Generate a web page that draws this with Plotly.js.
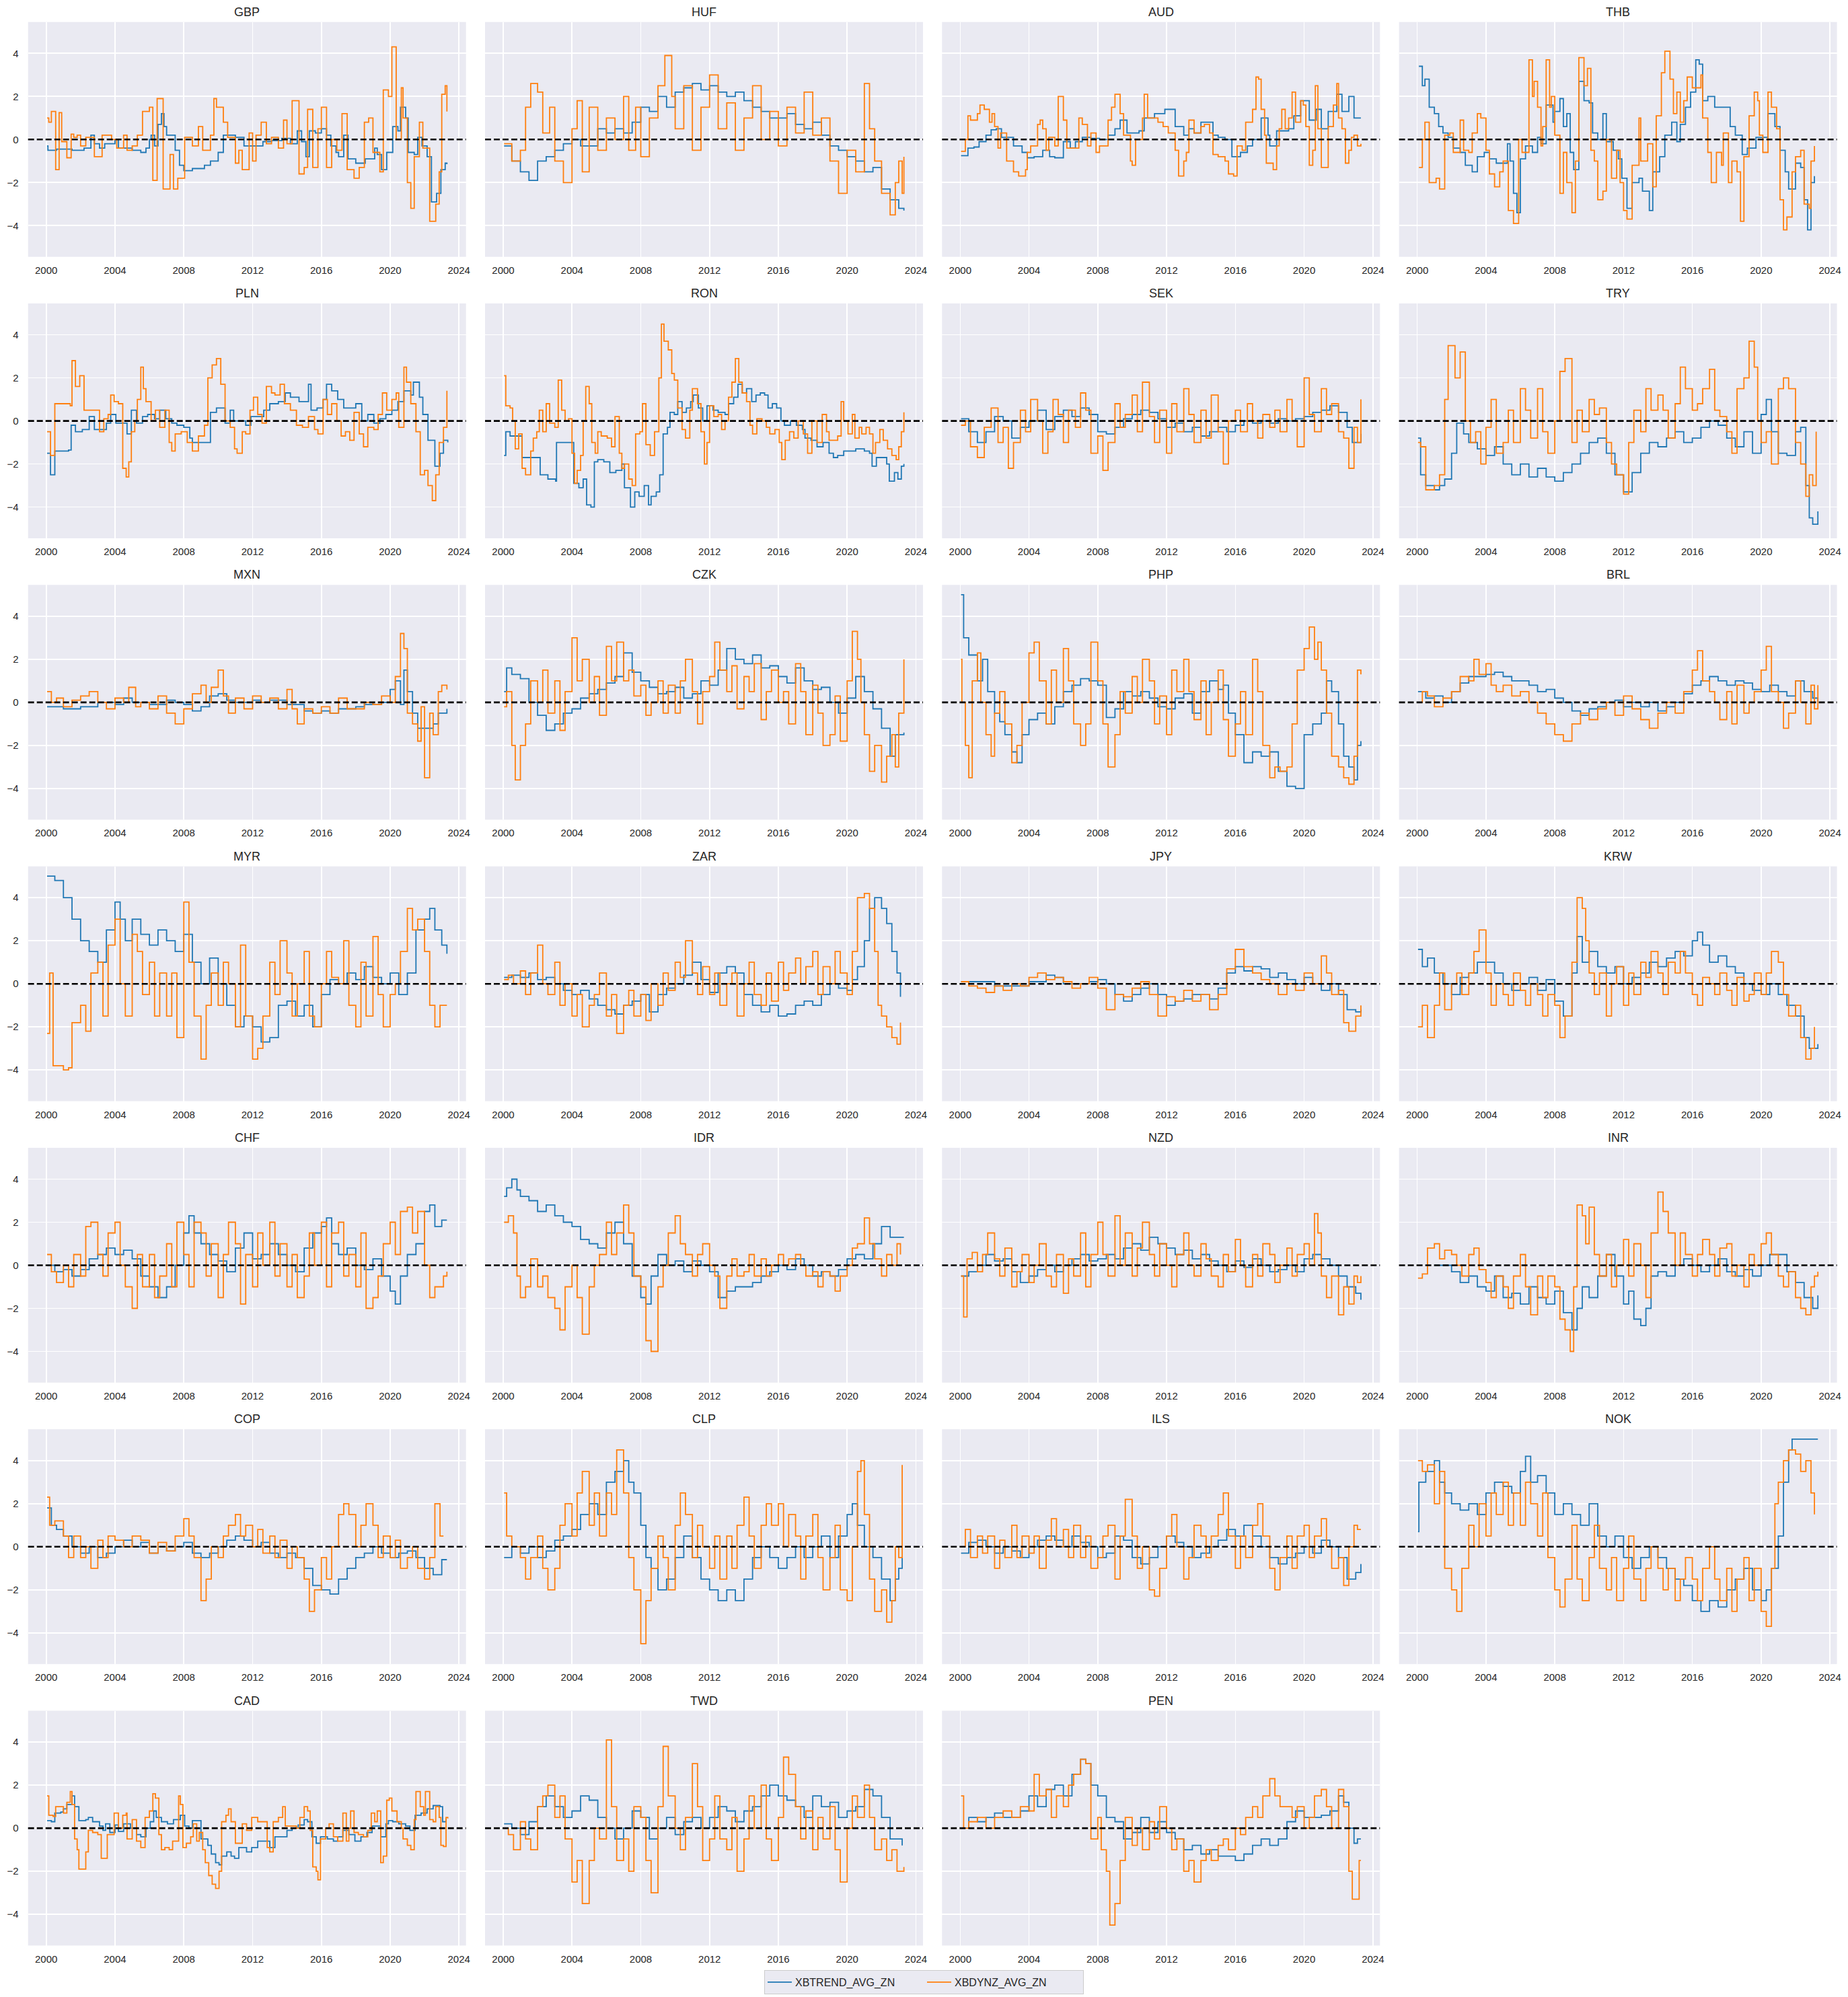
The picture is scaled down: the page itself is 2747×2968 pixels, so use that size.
<!DOCTYPE html>
<html><head><meta charset="utf-8">
<script src="https://cdn.plot.ly/plotly-3.0.1.min.js"></script>
<style>html,body{margin:0;padding:0;background:#fff;}#chart{width:2747px;height:2968px;}</style>
</head><body><div id="chart"></div>
<script>
// ---------- DATA (decimal year, z-score) ----------
const CURRENCIES = ["GBP","HUF","AUD","THB","PLN","RON","SEK","TRY","MXN","CZK","PHP","BRL","MYR","ZAR","JPY","KRW","CHF","IDR","NZD","INR","COP","CLP","ILS","NOK","CAD","TWD","PEN"];
const SERIES_NAMES = ["XBTREND_AVG_ZN","XBDYNZ_AVG_ZN"];
const X_TICKS = [2000,2004,2008,2012,2016,2020,2024];
const Y_TICKS = [-4,-2,0,2,4];

const GBP_TREND=[[2000.05,-0.3],[2000.1,-0.5],[2000.6,-0.45],[2001.5,-0.5],[2002.2,-0.4],[2002.6,0.2],[2002.8,-0.2],[2003.1,-0.4],[2003.4,-0.2],[2004.0,0.0],[2004.2,-0.4],[2005.0,-0.5],[2005.5,-0.6],[2005.8,-0.4],[2006.0,0.0],[2006.1,0.2],[2006.3,-0.3],[2006.5,0.7],[2006.7,1.2],[2006.85,0.6],[2007.0,0.2],[2007.5,-0.5],[2007.75,-1.2],[2008.0,-1.45],[2008.5,-1.35],[2009.2,-1.2],[2009.55,-1.0],[2010.0,-0.6],[2010.3,0.2],[2011.0,0.1],[2011.5,-0.3],[2012.6,-0.1],[2013.1,-0.05],[2013.7,0.05],[2014.2,-0.2],[2014.6,0.4],[2014.85,-0.1],[2015.1,-0.8],[2015.3,0.4],[2015.65,0.3],[2016.0,0.5],[2016.3,0.2],[2016.55,-0.3],[2016.85,-0.6],[2017.0,-0.8],[2017.3,0.2],[2017.55,-0.9],[2018.0,-1.1],[2018.55,-0.9],[2019.1,-0.4],[2019.25,-0.7],[2019.5,-1.4],[2019.8,-0.6],[2020.15,0.6],[2020.45,0.4],[2020.6,1.5],[2020.9,1.0],[2021.05,-0.6],[2021.4,-0.7],[2021.6,0.1],[2021.85,-0.3],[2022.15,-0.8],[2022.4,-2.9],[2022.7,-2.5],[2022.95,-1.4],[2023.2,-1.1],[2023.3,-1.15]];
const GBP_DYNZ=[[2000.05,1.0],[2000.15,0.8],[2000.3,1.3],[2000.55,-1.4],[2000.75,1.25],[2000.9,-0.1],[2001.2,-0.85],[2001.45,0.25],[2001.6,0.1],[2001.8,0.2],[2002.0,-0.3],[2002.3,0.1],[2002.8,-0.8],[2003.25,0.2],[2003.8,0.0],[2004.1,-0.4],[2004.5,0.2],[2004.7,-0.5],[2005.0,-0.3],[2005.3,0.2],[2005.6,1.3],[2006.0,1.5],[2006.2,-1.9],[2006.45,1.9],[2006.8,-2.3],[2007.2,-0.7],[2007.4,-2.3],[2007.65,-1.8],[2008.05,0.1],[2008.5,-0.3],[2008.85,0.6],[2009.1,-0.5],[2009.55,0.2],[2009.75,1.9],[2009.9,1.5],[2010.3,0.8],[2010.55,0.1],[2011.0,-1.1],[2011.2,-0.5],[2011.4,-1.4],[2011.8,0.3],[2012.0,-1.0],[2012.2,0.2],[2012.5,0.8],[2012.8,-0.2],[2013.1,0.1],[2013.5,-0.4],[2013.8,0.9],[2014.0,-0.2],[2014.3,1.8],[2014.7,-1.6],[2015.0,-1.3],[2015.2,1.4],[2015.5,-1.3],[2015.8,0.5],[2016.0,1.5],[2016.3,-1.3],[2016.6,0.0],[2016.9,-0.5],[2017.2,1.2],[2017.5,-1.4],[2017.9,-1.8],[2018.2,-1.3],[2018.5,0.8],[2018.75,1.0],[2019.0,-0.6],[2019.4,-1.5],[2019.6,2.3],[2019.9,2.0],[2020.1,4.3],[2020.35,0.0],[2020.65,2.4],[2020.75,1.0],[2021.0,-2.0],[2021.2,-3.2],[2021.4,-0.8],[2021.7,0.8],[2021.9,-0.4],[2022.3,-3.8],[2022.65,-3.0],[2022.85,-1.5],[2023.0,2.1],[2023.2,2.5],[2023.3,1.3]];

const HUF_TREND=[[2000.05,-0.3],[2000.5,-1.0],[2001.0,-1.5],[2001.5,-1.9],[2002.0,-1.0],[2002.5,-0.8],[2003.0,-0.5],[2003.5,-0.2],[2004.0,0.0],[2004.5,-0.3],[2005.0,-0.3],[2005.5,0.5],[2006.0,0.3],[2006.5,0.5],[2007.0,0.3],[2007.5,0.8],[2008.0,1.5],[2008.5,1.3],[2009.0,2.0],[2009.5,1.5],[2010.0,2.2],[2010.5,2.4],[2011.0,2.6],[2011.5,2.3],[2012.0,2.5],[2012.5,2.2],[2013.0,2.0],[2013.5,2.2],[2014.0,1.8],[2014.5,1.5],[2015.0,1.3],[2015.5,1.0],[2016.0,1.0],[2016.5,1.2],[2017.0,0.7],[2017.5,0.5],[2018.0,0.8],[2018.5,0.2],[2019.0,-0.3],[2019.5,-0.5],[2020.0,-0.8],[2020.5,-1.0],[2021.0,-1.5],[2021.5,-1.3],[2022.0,-2.3],[2022.5,-2.8],[2023.0,-3.2],[2023.3,-3.3]];
const HUF_DYNZ=[[2000.05,-0.2],[2000.5,-1.0],[2001.0,-0.5],[2001.3,1.5],[2001.6,2.6],[2002.0,2.2],[2002.3,0.3],[2002.7,1.5],[2003.0,-1.0],[2003.5,-2.0],[2004.0,0.5],[2004.3,1.8],[2004.6,-1.5],[2005.0,1.5],[2005.5,-0.5],[2006.0,1.0],[2006.5,0.0],[2007.0,2.0],[2007.3,-0.5],[2007.7,1.5],[2008.0,-0.8],[2008.5,1.0],[2009.0,2.5],[2009.4,3.9],[2009.8,2.0],[2010.0,0.5],[2010.5,2.5],[2011.0,-0.5],[2011.5,1.5],[2012.0,3.0],[2012.5,0.5],[2013.0,1.7],[2013.5,-0.5],[2014.0,1.0],[2014.5,2.5],[2015.0,0.0],[2015.5,1.3],[2016.0,-0.3],[2016.5,1.5],[2017.0,0.3],[2017.5,2.2],[2018.0,0.2],[2018.5,1.0],[2019.0,-1.0],[2019.5,-2.5],[2020.0,-0.5],[2020.5,-1.5],[2021.0,2.6],[2021.3,0.5],[2021.6,-1.0],[2022.0,-2.5],[2022.5,-3.5],[2022.8,-2.0],[2023.0,-1.0],[2023.2,-2.5],[2023.3,-0.8]];

const AUD_TREND=[[2000.05,-0.75],[2000.45,-0.4],[2000.8,-0.35],[2001.1,-0.1],[2001.5,0.2],[2001.8,0.45],[2002.1,0.5],[2002.4,0.1],[2003.1,-0.3],[2003.6,-0.6],[2003.9,-0.85],[2004.3,-0.8],[2004.8,-0.5],[2005.2,-0.8],[2005.5,-0.85],[2006.0,-0.1],[2006.4,-0.4],[2006.7,-0.1],[2007.1,0.1],[2007.6,0.05],[2008.1,0.0],[2008.6,0.2],[2009.0,0.5],[2009.3,0.9],[2009.7,0.3],[2010.4,0.4],[2010.7,1.0],[2011.3,1.2],[2011.9,1.4],[2012.5,0.6],[2013.0,0.2],[2013.3,0.5],[2013.6,0.3],[2014.0,0.8],[2014.5,0.8],[2014.7,0.2],[2015.0,0.1],[2015.4,0.0],[2015.8,-0.8],[2016.3,-0.6],[2016.7,-0.3],[2017.0,0.0],[2017.5,1.0],[2017.9,0.2],[2018.0,-0.3],[2018.4,0.4],[2019.1,0.5],[2019.4,1.1],[2019.8,1.8],[2020.3,0.9],[2020.7,1.4],[2021.0,0.5],[2021.4,1.3],[2021.9,2.1],[2022.2,1.3],[2022.6,2.0],[2022.9,1.0],[2023.3,1.0]];
const AUD_DYNZ=[[2000.05,-0.55],[2000.3,0.0],[2000.45,1.1],[2000.6,0.9],[2001.0,1.2],[2001.15,1.6],[2001.4,1.4],[2001.7,0.8],[2001.85,1.2],[2002.0,0.6],[2002.2,-0.4],[2002.35,0.3],[2002.7,-1.0],[2003.1,-1.5],[2003.4,-1.7],[2003.8,-1.4],[2003.9,-0.6],[2004.1,-0.3],[2004.5,0.7],[2004.65,0.9],[2004.8,0.5],[2005.0,-0.5],[2005.15,0.1],[2005.5,-0.3],[2005.7,2.0],[2006.0,0.9],[2006.2,-0.4],[2006.9,1.0],[2007.1,0.7],[2007.4,-0.3],[2007.6,0.3],[2007.9,-0.6],[2008.1,-0.3],[2008.6,0.9],[2008.8,1.5],[2009.0,2.1],[2009.3,1.2],[2009.5,0.2],[2009.9,-1.0],[2010.0,-1.2],[2010.2,0.0],[2010.6,1.0],[2010.7,2.1],[2010.9,1.0],[2011.5,0.8],[2011.8,0.6],[2012.1,0.3],[2012.5,-0.5],[2012.7,-1.7],[2013.0,-1.0],[2013.15,-0.6],[2013.3,0.9],[2013.6,0.3],[2014.0,0.6],[2014.2,0.7],[2014.5,0.3],[2014.7,-0.7],[2015.0,-0.8],[2015.4,-1.0],[2015.6,-1.6],[2015.9,-1.7],[2016.1,-0.3],[2016.4,-0.5],[2016.6,0.8],[2017.0,1.4],[2017.2,2.9],[2017.35,2.8],[2017.5,1.4],[2017.7,0.2],[2017.8,-1.1],[2018.2,-1.4],[2018.4,-0.3],[2018.55,0.5],[2018.7,1.4],[2018.9,0.5],[2019.1,1.0],[2019.3,2.2],[2019.5,0.8],[2019.8,1.8],[2019.95,1.6],[2020.1,0.6],[2020.3,-1.2],[2020.5,-0.5],[2020.65,2.5],[2020.8,0.5],[2021.0,-1.3],[2021.4,0.6],[2021.7,1.6],[2021.9,2.6],[2022.0,1.0],[2022.2,0.5],[2022.4,-1.1],[2022.6,-0.5],[2022.75,0.1],[2022.9,0.2],[2023.1,-0.3],[2023.3,-0.2]];

const THB_TREND=[[2000.1,3.4],[2000.3,2.5],[2000.45,2.8],[2000.7,1.5],[2001.0,1.2],[2001.25,0.6],[2001.5,0.3],[2001.8,0.1],[2002.1,-0.4],[2002.5,-0.6],[2002.8,-1.2],[2003.2,-1.5],[2003.5,-0.8],[2003.9,-0.6],[2004.2,-0.9],[2004.6,-1.1],[2005.25,-0.2],[2005.4,-1.0],[2005.6,-2.5],[2005.8,-3.4],[2006.0,-0.9],[2006.3,-0.3],[2006.7,-0.6],[2007.0,0.1],[2007.2,-0.2],[2007.5,1.6],[2007.9,0.8],[2008.0,1.3],[2008.3,1.9],[2008.5,0.6],[2008.7,1.2],[2008.9,-0.6],[2009.1,-1.4],[2009.4,2.7],[2009.7,1.8],[2010.0,1.7],[2010.2,0.3],[2010.5,0.0],[2010.8,1.2],[2011.0,-0.1],[2011.4,-0.5],[2011.7,-0.9],[2011.9,-1.8],[2012.2,-3.2],[2012.5,-2.0],[2012.9,-1.8],[2013.1,-2.4],[2013.5,-3.3],[2013.7,-1.5],[2014.1,-0.8],[2014.4,0.2],[2014.8,0.8],[2015.1,-0.1],[2015.3,0.7],[2015.6,1.5],[2015.9,2.2],[2016.2,3.7],[2016.4,3.5],[2016.6,1.8],[2016.9,2.0],[2017.3,1.5],[2017.8,1.5],[2018.2,0.6],[2018.5,0.2],[2018.9,-0.7],[2019.2,-0.4],[2019.7,0.1],[2020.1,0.1],[2020.4,1.2],[2020.8,0.6],[2021.1,-0.5],[2021.4,-1.5],[2021.6,-2.3],[2022.0,-1.1],[2022.3,-1.3],[2022.5,-2.8],[2022.7,-4.2],[2022.9,-2.0],[2023.1,-1.7]];
const THB_DYNZ=[[2000.1,-1.3],[2000.3,0.0],[2000.45,0.8],[2000.7,-2.0],[2001.1,-1.8],[2001.3,-2.3],[2001.6,0.2],[2001.9,0.3],[2002.1,-0.6],[2002.5,0.9],[2002.7,-0.5],[2003.0,-0.6],[2003.2,0.3],[2003.5,1.2],[2003.7,1.0],[2004.0,-0.5],[2004.2,-1.6],[2004.5,-2.2],[2004.8,-1.5],[2005.0,-1.0],[2005.3,-3.3],[2005.6,-3.9],[2005.9,0.0],[2006.1,-0.6],[2006.5,3.7],[2006.7,2.0],[2006.8,2.7],[2007.0,1.5],[2007.2,-0.3],[2007.3,0.6],[2007.5,3.7],[2007.7,1.5],[2007.8,2.0],[2008.0,0.2],[2008.3,-2.5],[2008.5,-0.6],[2008.7,-2.0],[2009.0,-3.4],[2009.2,-1.0],[2009.4,3.8],[2009.7,2.5],[2009.9,3.3],[2010.1,-0.5],[2010.3,-1.0],[2010.5,-2.8],[2010.8,-2.4],[2011.0,0.0],[2011.3,-1.8],[2011.6,-0.5],[2011.8,-2.0],[2012.0,-3.3],[2012.2,-3.7],[2012.5,-1.2],[2012.9,1.0],[2013.0,-1.0],[2013.4,-0.2],[2013.7,-2.2],[2013.9,1.1],[2014.2,3.1],[2014.4,4.1],[2014.7,2.8],[2014.9,1.2],[2015.1,2.2],[2015.3,0.8],[2015.5,1.8],[2015.7,2.9],[2016.0,2.4],[2016.5,3.0],[2016.6,1.0],[2016.9,-0.6],[2017.1,-2.0],[2017.4,-0.6],[2017.7,-1.2],[2017.8,0.3],[2018.1,-2.0],[2018.3,-1.0],[2018.6,-1.5],[2018.8,-3.8],[2019.0,-0.8],[2019.3,1.1],[2019.6,2.2],[2019.8,1.8],[2019.9,0.2],[2020.1,-0.6],[2020.4,2.2],[2020.6,1.5],[2020.9,0.5],[2021.1,-2.8],[2021.3,-4.2],[2021.5,-3.6],[2021.8,-1.5],[2022.0,-0.8],[2022.3,-0.5],[2022.5,-3.0],[2022.8,-3.2],[2022.9,-1.0],[2023.1,-0.3]];

const PLN_TREND=[[2000.05,-1.5],[2000.25,-2.5],[2000.5,-1.4],[2001.3,-1.35],[2001.45,-0.2],[2001.7,-0.5],[2002.1,-0.4],[2002.5,0.2],[2002.8,-0.4],[2003.35,-0.4],[2003.5,-0.1],[2003.75,0.3],[2004.05,-0.1],[2004.7,-0.6],[2004.95,0.5],[2005.25,-0.1],[2005.6,0.2],[2005.9,0.3],[2006.3,0.1],[2006.6,0.5],[2006.95,0.1],[2007.3,-0.1],[2007.6,-0.2],[2008.0,-0.3],[2008.35,-0.8],[2008.5,-1.0],[2009.2,-1.0],[2009.55,0.4],[2009.9,0.6],[2010.25,0.6],[2010.4,-0.1],[2010.7,0.5],[2010.9,0.0],[2011.6,-0.2],[2011.9,0.2],[2012.3,0.2],[2012.65,0.5],[2013.0,0.8],[2013.5,0.9],[2013.9,1.3],[2014.2,1.1],[2014.7,0.9],[2015.1,0.9],[2015.25,1.7],[2015.4,0.5],[2015.75,0.6],[2016.1,1.0],[2016.3,1.7],[2016.6,1.4],[2016.95,1.0],[2017.3,0.6],[2018.0,0.8],[2018.35,0.0],[2018.7,0.3],[2019.05,-0.1],[2019.4,0.1],[2019.75,0.3],[2020.1,0.5],[2020.45,0.9],[2020.8,1.4],[2021.2,1.2],[2021.35,1.8],[2021.7,1.1],[2021.9,0.3],[2022.2,-0.9],[2022.6,-2.1],[2022.9,-1.5],[2023.1,-0.9],[2023.35,-1.0]];
const PLN_DYNZ=[[2000.05,-0.5],[2000.25,-1.6],[2000.5,0.8],[2001.4,0.7],[2001.5,2.8],[2001.7,1.6],[2001.95,2.1],[2002.2,0.5],[2002.85,0.5],[2003.1,-0.5],[2003.35,0.1],[2003.6,0.3],[2003.75,1.2],[2003.95,0.9],[2004.2,0.8],[2004.45,-2.2],[2004.65,-2.6],[2004.8,-1.9],[2004.95,-0.5],[2005.15,0.0],[2005.3,1.0],[2005.5,2.5],[2005.65,1.5],[2005.8,0.9],[2006.1,0.0],[2006.35,0.5],[2006.6,-0.3],[2006.9,0.5],[2007.15,-1.0],[2007.3,-1.4],[2007.5,-0.6],[2007.85,-0.5],[2008.2,-1.0],[2008.5,-1.4],[2008.85,-0.7],[2009.2,-0.2],[2009.4,2.0],[2009.65,2.6],[2009.9,2.9],[2010.15,1.7],[2010.4,0.0],[2010.7,-0.3],[2010.95,-1.3],[2011.1,-1.5],[2011.4,-0.5],[2011.6,-0.6],[2011.85,0.5],[2012.05,1.1],[2012.3,0.3],[2012.55,-0.1],[2012.8,1.6],[2013.1,1.3],[2013.3,1.2],[2013.6,1.7],[2013.85,0.8],[2014.2,0.5],[2014.55,-0.2],[2014.9,-0.3],[2015.25,0.2],[2015.6,-0.4],[2015.8,-0.6],[2016.1,1.0],[2016.35,0.3],[2016.6,0.8],[2016.9,0.0],[2017.15,-0.7],[2017.4,-0.5],[2017.65,-0.9],[2017.9,0.4],[2018.2,-0.6],[2018.45,-1.2],[2018.7,-0.3],[2019.05,-0.4],[2019.3,0.3],[2019.55,1.3],[2019.8,0.5],[2020.1,1.0],[2020.35,1.3],[2020.5,-0.3],[2020.8,2.5],[2020.95,1.8],[2021.2,0.8],[2021.5,-0.5],[2021.75,-2.5],[2022.0,-2.3],[2022.2,-3.0],[2022.45,-3.7],[2022.65,-2.5],[2022.85,-1.0],[2023.1,-0.3],[2023.3,1.4]];

const RON_TREND=[[2000.05,-1.6],[2000.15,-0.5],[2000.4,-0.7],[2001.1,-1.7],[2002.15,-2.5],[2002.6,-2.7],[2003.05,-2.8],[2003.1,-1.0],[2004.1,-2.9],[2004.4,-3.1],[2004.65,-2.7],[2004.85,-3.9],[2005.1,-4.0],[2005.3,-1.9],[2005.5,-1.8],[2005.85,-1.9],[2006.2,-2.4],[2006.55,-2.3],[2006.9,-2.0],[2007.05,-3.1],[2007.4,-4.0],[2007.65,-3.3],[2007.9,-3.5],[2008.2,-3.0],[2008.45,-3.9],[2008.6,-3.5],[2008.9,-3.3],[2009.1,-2.5],[2009.3,-0.6],[2009.55,-0.3],[2009.7,0.4],[2009.95,0.3],[2010.15,0.9],[2010.4,0.4],[2010.65,0.6],[2010.9,0.9],[2011.05,1.2],[2011.35,0.6],[2011.6,0.0],[2011.85,0.7],[2012.2,0.5],[2012.5,0.4],[2012.9,0.3],[2013.1,0.8],[2013.4,1.1],[2013.65,1.7],[2013.9,1.3],[2014.15,1.5],[2014.45,0.9],[2014.7,1.2],[2014.95,1.3],[2015.2,1.2],[2015.4,0.6],[2015.65,0.8],[2015.9,0.6],[2016.15,0.0],[2016.35,-0.2],[2016.7,0.0],[2017.05,-0.2],[2017.4,-0.4],[2017.55,-0.8],[2017.9,-0.9],[2018.25,-1.2],[2018.6,-1.0],[2018.95,-1.5],[2019.2,-1.7],[2019.45,-1.6],[2019.8,-1.4],[2020.5,-1.3],[2021.0,-1.4],[2021.3,-1.5],[2021.45,-2.1],[2021.7,-1.7],[2022.05,-1.7],[2022.3,-2.0],[2022.45,-2.8],[2022.75,-2.4],[2022.95,-2.7],[2023.15,-2.1],[2023.3,-2.0]];
const RON_DYNZ=[[2000.05,2.1],[2000.15,0.7],[2000.4,0.6],[2000.55,0.0],[2000.7,-1.3],[2000.9,-0.6],[2001.1,-2.2],[2001.3,-2.5],[2001.6,-1.4],[2001.75,-0.8],[2001.95,-0.5],[2002.1,0.5],[2002.3,-0.5],[2002.5,0.8],[2002.7,-0.1],[2003.0,-0.3],[2003.2,1.9],[2003.4,0.5],[2003.6,0.0],[2003.8,0.1],[2004.0,-1.5],[2004.15,-2.9],[2004.3,-2.3],[2004.5,-1.6],[2004.65,0.0],[2004.8,1.6],[2005.0,0.8],[2005.15,-1.0],[2005.35,-1.5],[2005.5,-0.5],[2005.7,-0.7],[2006.05,-0.8],[2006.3,-1.2],[2006.5,0.2],[2006.75,-1.5],[2006.9,-2.2],[2007.05,-2.0],[2007.3,-2.7],[2007.5,-3.0],[2007.7,-0.6],[2007.95,-0.5],[2008.1,0.8],[2008.3,-1.1],[2008.55,-1.6],[2008.8,-0.5],[2009.05,2.0],[2009.2,4.5],[2009.35,3.7],[2009.6,3.3],[2009.8,2.2],[2009.95,1.9],[2010.15,0.6],[2010.4,-0.4],[2010.6,-0.8],[2010.85,0.5],[2011.0,1.5],[2011.3,0.8],[2011.5,-0.5],[2011.7,-2.0],[2011.85,-1.0],[2012.0,0.7],[2012.25,0.2],[2012.5,0.3],[2012.7,-0.4],[2012.9,0.0],[2013.1,1.1],[2013.3,1.8],[2013.5,2.9],[2013.7,1.8],[2013.9,1.3],[2014.15,0.9],[2014.35,-0.2],[2014.5,-0.6],[2014.75,0.1],[2015.05,0.0],[2015.3,-0.3],[2015.5,-0.6],[2015.8,-0.4],[2016.05,-1.0],[2016.2,-1.8],[2016.4,-0.9],[2016.65,-0.5],[2016.9,-0.8],[2017.15,0.0],[2017.45,-0.6],[2017.7,-1.5],[2017.95,0.0],[2018.25,-1.0],[2018.55,0.3],[2018.8,-0.5],[2018.95,-0.9],[2019.45,-0.7],[2019.65,0.9],[2019.8,0.0],[2020.05,-0.6],[2020.3,0.3],[2020.45,-0.8],[2020.7,-0.3],[2020.85,-0.6],[2021.1,-0.3],[2021.3,-0.6],[2021.5,-1.5],[2021.65,-1.0],[2021.9,-0.4],[2022.1,-0.9],[2022.35,-1.3],[2022.6,-1.6],[2022.85,-1.8],[2023.0,-1.2],[2023.15,-0.5],[2023.3,0.4]];

const SEK_TREND=[[2000.05,0.1],[2000.5,-0.5],[2001.0,-1.0],[2001.5,-0.5],[2002.0,0.2],[2002.5,0.0],[2003.0,-0.8],[2003.5,-0.3],[2004.0,0.0],[2004.5,0.5],[2005.0,-0.4],[2005.5,0.2],[2006.0,0.5],[2006.5,0.2],[2007.0,0.6],[2007.5,0.3],[2008.0,-0.5],[2008.5,-0.6],[2009.0,-0.3],[2009.5,0.1],[2010.0,0.3],[2010.5,0.5],[2011.0,0.4],[2011.5,0.1],[2012.0,-0.3],[2012.5,-0.1],[2013.0,-0.5],[2013.5,-0.3],[2014.0,-0.7],[2014.5,-0.5],[2015.0,-0.3],[2015.5,-0.5],[2016.0,-0.2],[2016.5,0.0],[2017.0,-0.1],[2017.5,0.0],[2018.0,-0.1],[2018.5,0.1],[2019.0,0.0],[2019.5,0.1],[2020.0,0.2],[2020.5,0.4],[2021.0,0.5],[2021.5,0.7],[2022.0,0.4],[2022.5,-0.3],[2022.8,-1.0],[2023.3,-0.6]];
const SEK_DYNZ=[[2000.05,-0.2],[2000.3,0.0],[2000.6,-1.2],[2001.0,-1.7],[2001.4,-0.3],[2001.8,0.6],[2002.2,-1.0],[2002.5,-0.3],[2002.8,-2.2],[2003.1,-1.0],[2003.5,0.5],[2003.8,-0.5],[2004.1,1.0],[2004.5,0.0],[2004.8,-1.5],[2005.1,-0.5],[2005.4,1.0],[2005.7,0.3],[2006.0,-1.0],[2006.3,0.5],[2006.7,-0.3],[2007.0,1.3],[2007.3,0.5],[2007.6,-1.5],[2008.0,-0.7],[2008.3,-2.3],[2008.6,-1.0],[2009.0,0.8],[2009.3,-0.3],[2009.6,0.3],[2010.0,1.2],[2010.3,-0.5],[2010.6,1.8],[2011.0,0.2],[2011.3,-1.0],[2011.6,0.5],[2012.0,-1.5],[2012.3,0.8],[2012.6,-0.5],[2013.0,1.5],[2013.3,0.3],[2013.6,-1.0],[2014.0,0.5],[2014.3,-0.8],[2014.6,1.2],[2015.0,-0.5],[2015.3,-2.0],[2015.6,0.0],[2016.0,0.5],[2016.3,-0.5],[2016.7,0.8],[2017.0,0.0],[2017.3,-0.8],[2017.6,0.3],[2018.0,-0.3],[2018.3,0.5],[2018.6,-0.5],[2019.0,1.0],[2019.3,0.0],[2019.6,-1.2],[2020.0,2.0],[2020.3,0.3],[2020.6,-0.5],[2021.0,1.5],[2021.3,0.3],[2021.6,0.8],[2022.0,-0.5],[2022.3,-0.8],[2022.6,-2.2],[2022.9,-0.3],[2023.1,-1.0],[2023.3,1.0]];

const TRY_TREND=[[2000.05,-0.8],[2000.2,-2.5],[2000.5,-3.0],[2001.0,-3.2],[2001.3,-3.0],[2001.6,-2.7],[2002.0,-1.5],[2002.3,-0.1],[2002.7,-0.6],[2003.0,-1.0],[2003.5,-1.3],[2004.0,-1.6],[2004.5,-1.2],[2005.0,-2.0],[2005.5,-2.5],[2006.0,-2.0],[2006.5,-2.6],[2007.0,-2.2],[2007.5,-2.6],[2008.0,-2.8],[2008.5,-2.4],[2009.0,-2.0],[2009.5,-1.5],[2010.0,-1.0],[2010.5,-0.8],[2011.0,-1.5],[2011.5,-2.5],[2012.0,-3.3],[2012.5,-2.4],[2013.0,-1.5],[2013.5,-1.0],[2014.0,-1.2],[2014.5,-0.8],[2015.0,-0.5],[2015.5,-1.0],[2016.0,-0.8],[2016.5,-0.3],[2017.0,0.0],[2017.5,-0.2],[2018.0,-0.8],[2018.5,-1.2],[2019.0,-0.5],[2019.5,-1.5],[2020.0,0.3],[2020.3,1.0],[2020.6,-0.5],[2021.0,-1.5],[2021.5,-1.6],[2022.0,-0.5],[2022.3,-0.3],[2022.6,-3.0],[2022.8,-4.5],[2023.0,-4.8],[2023.3,-4.2]];
const TRY_DYNZ=[[2000.05,-1.0],[2000.2,-1.2],[2000.5,-3.2],[2001.0,-3.0],[2001.3,-2.5],[2001.6,1.0],[2001.8,3.5],[2002.2,2.0],[2002.5,3.2],[2002.8,0.0],[2003.1,-1.0],[2003.4,-0.5],[2003.7,-2.0],[2004.0,-0.3],[2004.3,1.0],[2004.6,-1.5],[2005.0,-1.0],[2005.3,0.5],[2005.6,-1.0],[2006.0,1.5],[2006.3,0.5],[2006.6,-0.8],[2007.0,1.5],[2007.3,-0.5],[2007.6,-1.5],[2008.0,0.0],[2008.3,2.3],[2008.6,2.9],[2009.0,-1.0],[2009.3,0.5],[2009.6,-0.5],[2010.0,1.0],[2010.3,0.3],[2010.6,0.6],[2011.0,-1.0],[2011.3,-2.0],[2011.6,-2.5],[2012.0,-3.4],[2012.3,-1.0],[2012.6,0.5],[2013.0,-0.5],[2013.3,1.5],[2013.6,0.5],[2014.0,1.2],[2014.3,0.5],[2014.6,-0.8],[2015.0,0.8],[2015.3,2.5],[2015.6,1.5],[2016.0,0.5],[2016.3,0.8],[2016.6,1.5],[2017.0,2.4],[2017.3,0.5],[2017.6,0.2],[2018.0,-0.5],[2018.3,-1.5],[2018.6,1.5],[2019.0,2.0],[2019.3,3.7],[2019.6,2.5],[2019.8,0.0],[2020.0,-1.0],[2020.3,-0.5],[2020.6,-2.0],[2021.0,1.5],[2021.3,2.0],[2021.6,1.5],[2022.0,-1.0],[2022.3,-2.0],[2022.6,-3.5],[2022.8,-2.5],[2023.0,-3.0],[2023.2,-0.5]];

const MXN_TREND=[[2000.05,-0.2],[2001.0,-0.3],[2002.0,-0.2],[2003.0,0.0],[2004.0,-0.1],[2004.5,0.2],[2005.0,0.0],[2006.0,-0.1],[2007.0,0.1],[2007.5,0.0],[2008.0,-0.1],[2008.5,-0.4],[2009.0,-0.2],[2009.5,0.3],[2010.0,0.4],[2010.5,0.1],[2011.0,0.0],[2012.0,0.1],[2012.5,0.0],[2013.0,0.1],[2014.0,-0.1],[2015.0,-0.4],[2015.5,-0.5],[2016.0,-0.4],[2016.5,-0.5],[2017.0,-0.3],[2018.0,-0.2],[2018.5,-0.1],[2019.5,0.0],[2020.0,0.6],[2020.3,1.0],[2020.6,-0.1],[2020.8,1.5],[2021.0,0.5],[2021.3,-0.5],[2021.6,-1.2],[2022.5,-1.0],[2022.8,-0.5],[2023.3,-0.3]];
const MXN_DYNZ=[[2000.05,0.5],[2000.3,0.0],[2000.6,0.2],[2001.0,-0.2],[2001.5,0.1],[2002.0,0.3],[2002.5,0.5],[2003.0,0.0],[2003.5,-0.3],[2004.0,0.2],[2004.5,0.0],[2004.8,0.7],[2005.2,-0.2],[2005.5,0.0],[2006.0,-0.3],[2006.5,0.3],[2007.0,-0.5],[2007.5,-1.0],[2008.0,-0.3],[2008.5,0.4],[2009.0,0.8],[2009.3,0.0],[2009.6,0.7],[2010.0,1.5],[2010.3,0.3],[2010.6,-0.5],[2011.0,0.2],[2011.5,-0.3],[2012.0,0.3],[2012.5,0.0],[2013.0,0.2],[2013.5,-0.3],[2014.0,0.6],[2014.3,-0.3],[2014.6,-1.0],[2015.0,-0.3],[2015.5,-0.5],[2016.0,-0.2],[2016.5,-0.5],[2017.0,0.2],[2017.5,-0.3],[2018.5,0.0],[2019.0,-0.1],[2019.5,0.3],[2020.0,0.0],[2020.3,1.2],[2020.6,3.2],[2020.8,2.5],[2021.0,-0.5],[2021.3,-1.0],[2021.6,-1.8],[2021.8,-0.2],[2022.0,-3.5],[2022.3,-0.5],[2022.5,-1.5],[2022.8,0.5],[2023.0,0.8],[2023.3,0.6]];

const CZK_TREND=[[2000.05,0.5],[2000.2,1.6],[2000.5,1.3],[2001.0,1.1],[2001.5,0.0],[2002.0,-0.6],[2002.5,-1.3],[2003.0,-1.0],[2003.5,-0.5],[2004.0,-0.3],[2004.5,0.2],[2005.0,0.4],[2005.5,0.6],[2006.0,0.9],[2006.5,1.2],[2007.0,2.3],[2007.5,1.4],[2008.0,1.0],[2008.5,0.7],[2009.0,0.4],[2009.5,0.5],[2010.0,0.7],[2010.5,0.2],[2011.0,0.4],[2011.5,1.0],[2012.0,0.8],[2012.5,1.5],[2013.0,2.5],[2013.5,2.0],[2014.0,1.8],[2014.5,2.2],[2015.0,1.6],[2015.5,1.7],[2016.0,1.2],[2016.5,0.9],[2017.0,1.6],[2017.5,1.0],[2018.0,0.6],[2018.5,0.7],[2019.0,0.0],[2019.5,-0.5],[2020.0,0.2],[2020.5,1.2],[2021.0,0.5],[2021.5,-0.3],[2022.0,-1.2],[2022.5,-2.5],[2022.8,-1.5],[2023.3,-1.4]];
const CZK_DYNZ=[[2000.05,-0.2],[2000.2,0.5],[2000.5,-2.0],[2000.7,-3.6],[2001.0,-2.0],[2001.3,-1.0],[2001.6,1.0],[2002.0,0.0],[2002.3,1.5],[2002.6,-0.5],[2003.0,1.0],[2003.3,-1.3],[2003.6,0.5],[2004.0,3.0],[2004.3,1.0],[2004.6,2.0],[2005.0,0.0],[2005.3,1.2],[2005.6,-0.6],[2006.0,2.6],[2006.3,1.0],[2006.6,2.8],[2007.0,1.0],[2007.3,1.5],[2007.6,0.3],[2008.0,0.8],[2008.3,-0.6],[2008.6,0.0],[2009.0,1.0],[2009.3,-0.5],[2009.6,0.8],[2010.0,-0.5],[2010.3,1.0],[2010.6,2.0],[2011.0,0.5],[2011.3,-1.0],[2011.6,0.5],[2012.0,1.2],[2012.3,2.8],[2012.6,1.5],[2013.0,0.5],[2013.3,1.7],[2013.6,-0.3],[2014.0,1.2],[2014.3,0.5],[2014.6,1.8],[2015.0,-0.8],[2015.3,0.5],[2015.6,1.5],[2016.0,0.0],[2016.3,0.5],[2016.6,-1.0],[2017.0,1.8],[2017.3,0.5],[2017.6,-1.5],[2018.0,0.8],[2018.3,-0.5],[2018.6,-2.0],[2019.0,-1.5],[2019.3,0.3],[2019.6,-1.8],[2020.0,1.0],[2020.3,3.3],[2020.6,2.0],[2020.8,0.0],[2021.0,-1.5],[2021.3,-3.2],[2021.6,-2.0],[2022.0,-3.7],[2022.3,-2.5],[2022.6,-1.5],[2022.8,-3.0],[2023.0,-0.5],[2023.3,2.0]];

const PHP_TREND=[[2000.05,5.0],[2000.2,3.0],[2000.5,2.2],[2001.0,1.0],[2001.3,2.0],[2001.6,0.5],[2002.0,-0.5],[2002.3,-0.9],[2002.6,-1.5],[2003.0,-2.3],[2003.3,-2.8],[2003.6,-1.5],[2004.0,-0.8],[2004.5,-0.5],[2005.0,-1.0],[2005.5,-0.2],[2006.0,0.5],[2006.5,0.8],[2007.0,1.1],[2007.5,1.0],[2008.0,0.8],[2008.5,-0.7],[2009.0,-0.3],[2009.5,0.5],[2010.0,0.3],[2010.5,0.5],[2011.0,0.2],[2011.5,-0.2],[2012.0,-0.3],[2012.5,0.2],[2013.0,0.4],[2013.5,-0.5],[2014.0,0.5],[2014.5,1.0],[2015.0,0.6],[2015.3,0.8],[2015.6,-0.5],[2016.0,-1.5],[2016.5,-2.8],[2017.0,-2.3],[2017.5,-2.5],[2018.0,-2.3],[2018.5,-3.2],[2019.0,-3.9],[2019.5,-4.0],[2020.0,-1.5],[2020.5,-1.0],[2021.0,-0.5],[2021.3,1.0],[2021.6,0.5],[2022.0,-1.0],[2022.3,-2.5],[2022.6,-3.0],[2022.9,-3.6],[2023.1,-2.0],[2023.3,-1.8]];
const PHP_DYNZ=[[2000.05,2.0],[2000.1,0.0],[2000.3,-2.0],[2000.5,-3.5],[2000.7,1.0],[2001.0,2.3],[2001.2,0.0],[2001.5,-1.5],[2001.8,-2.5],[2002.0,-0.5],[2002.3,0.5],[2002.6,-1.0],[2003.0,-2.8],[2003.3,-2.0],[2003.6,0.0],[2004.0,2.3],[2004.3,2.8],[2004.6,1.0],[2005.0,-1.0],[2005.3,1.5],[2005.6,0.0],[2006.0,2.5],[2006.3,1.0],[2006.6,-1.0],[2007.0,-2.0],[2007.3,-1.0],[2007.6,2.8],[2008.0,1.0],[2008.3,-1.0],[2008.6,-3.0],[2009.0,-1.5],[2009.3,0.5],[2009.6,-0.5],[2010.0,1.2],[2010.3,0.0],[2010.6,2.0],[2011.0,1.0],[2011.3,-1.0],[2011.6,0.3],[2012.0,-1.5],[2012.3,1.5],[2012.6,0.5],[2013.0,2.0],[2013.3,0.5],[2013.6,-0.8],[2014.0,1.0],[2014.3,-1.5],[2014.6,0.0],[2015.0,1.5],[2015.3,-0.8],[2015.6,-2.5],[2016.0,-1.0],[2016.3,0.5],[2016.6,-1.5],[2017.0,2.0],[2017.3,0.5],[2017.6,-2.0],[2018.0,-3.5],[2018.3,-3.0],[2018.6,-3.2],[2019.0,-3.0],[2019.3,-1.0],[2019.6,1.5],[2020.0,2.5],[2020.3,3.5],[2020.6,2.0],[2020.8,2.8],[2021.0,1.5],[2021.3,-0.5],[2021.6,-2.5],[2022.0,-3.0],[2022.3,-3.5],[2022.6,-3.8],[2022.9,-2.5],[2023.1,1.5],[2023.3,1.3]];

const BRL_TREND=[[2000.05,0.5],[2000.5,0.2],[2001.0,0.3],[2001.5,0.0],[2002.0,0.5],[2002.5,0.9],[2003.0,1.2],[2004.0,1.3],[2004.5,1.4],[2005.0,1.2],[2005.5,1.0],[2006.5,0.8],[2007.0,0.5],[2007.5,0.6],[2008.0,0.2],[2008.5,0.0],[2009.0,-0.4],[2009.5,-0.6],[2010.0,-0.3],[2010.5,-0.2],[2011.0,0.0],[2011.5,0.1],[2012.0,-0.2],[2012.5,0.0],[2013.0,-0.2],[2013.5,0.0],[2014.0,-0.4],[2014.5,-0.2],[2015.0,0.0],[2015.5,0.4],[2016.0,0.8],[2016.5,1.0],[2017.0,1.2],[2017.5,1.0],[2018.0,0.8],[2018.5,1.0],[2019.0,0.9],[2019.5,0.6],[2020.0,0.5],[2020.5,0.8],[2021.0,0.5],[2021.5,0.3],[2022.0,1.0],[2022.5,0.5],[2023.0,0.2],[2023.3,0.0]];
const BRL_DYNZ=[[2000.05,0.0],[2000.3,0.5],[2000.6,0.3],[2001.0,-0.2],[2001.5,0.2],[2002.0,0.5],[2002.5,1.2],[2003.0,1.0],[2003.3,2.0],[2003.6,1.3],[2004.0,1.8],[2004.3,0.8],[2004.6,0.5],[2005.0,0.8],[2005.5,0.3],[2006.0,0.5],[2006.5,0.0],[2007.0,-0.5],[2007.5,-1.0],[2008.0,-1.5],[2008.5,-1.8],[2009.0,-1.0],[2009.5,-0.5],[2010.0,-0.8],[2010.5,-0.3],[2011.0,0.0],[2011.5,-0.6],[2012.0,0.3],[2012.5,-0.3],[2013.0,-0.8],[2013.5,-1.2],[2014.0,-0.5],[2014.5,0.0],[2015.0,-0.5],[2015.5,0.5],[2016.0,1.5],[2016.3,2.4],[2016.6,1.0],[2017.0,0.5],[2017.3,0.0],[2017.6,-0.8],[2018.0,0.5],[2018.3,-1.0],[2018.6,0.8],[2019.0,-0.5],[2019.3,0.0],[2019.6,0.5],[2020.0,1.5],[2020.3,2.6],[2020.6,0.5],[2021.0,0.0],[2021.3,-1.2],[2021.6,-0.5],[2022.0,1.0],[2022.3,0.0],[2022.6,-1.0],[2022.9,0.8],[2023.1,-0.3],[2023.3,0.8]];

const MYR_TREND=[[2000.05,5.0],[2000.5,4.8],[2001.0,4.0],[2001.5,3.0],[2002.0,2.0],[2002.5,1.5],[2003.0,1.0],[2003.5,2.5],[2004.0,3.8],[2004.3,3.0],[2004.6,2.0],[2005.0,3.0],[2005.5,2.3],[2006.0,1.8],[2006.5,2.5],[2007.0,2.0],[2007.5,1.5],[2008.0,2.3],[2008.5,1.0],[2009.0,0.0],[2009.5,1.2],[2010.0,0.0],[2010.5,-1.0],[2011.0,-2.0],[2011.5,-1.5],[2012.0,-2.0],[2012.5,-2.7],[2013.0,-2.5],[2013.5,-1.0],[2014.0,-0.8],[2014.5,-1.5],[2015.0,-1.0],[2015.5,-2.0],[2016.0,-0.5],[2016.5,0.2],[2017.0,0.0],[2017.5,0.5],[2018.0,0.2],[2018.5,0.8],[2019.0,0.3],[2019.5,0.0],[2020.0,0.5],[2020.5,-0.5],[2021.0,0.5],[2021.5,2.5],[2022.0,3.0],[2022.3,3.5],[2022.6,2.5],[2023.0,1.8],[2023.3,1.4]];
const MYR_DYNZ=[[2000.05,-2.3],[2000.2,0.5],[2000.4,-3.8],[2001.0,-4.0],[2001.3,-3.9],[2001.5,-1.8],[2002.0,-1.0],[2002.3,-2.2],[2002.6,0.5],[2003.0,1.0],[2003.3,-1.5],[2003.6,1.8],[2004.0,3.0],[2004.3,0.0],[2004.6,-1.5],[2005.0,2.3],[2005.3,1.5],[2005.6,-0.5],[2006.0,1.0],[2006.3,-1.5],[2006.6,0.5],[2007.0,-1.5],[2007.3,0.5],[2007.6,-2.5],[2008.0,3.8],[2008.3,1.0],[2008.6,-1.5],[2009.0,-3.5],[2009.3,-1.0],[2009.6,0.5],[2010.0,-1.0],[2010.3,1.0],[2010.6,0.0],[2011.0,-2.0],[2011.3,1.8],[2011.6,-1.5],[2012.0,-3.5],[2012.3,-3.0],[2012.6,-1.5],[2013.0,1.0],[2013.3,-0.5],[2013.6,2.0],[2014.0,0.5],[2014.3,-1.5],[2014.6,0.0],[2015.0,1.5],[2015.3,-1.5],[2015.6,-2.0],[2016.0,0.0],[2016.3,1.5],[2016.6,0.3],[2017.0,0.0],[2017.3,2.0],[2017.6,-1.0],[2018.0,-2.0],[2018.3,1.0],[2018.6,-1.5],[2019.0,2.2],[2019.3,-0.5],[2019.6,-2.0],[2020.0,-0.5],[2020.3,0.0],[2020.6,1.5],[2021.0,3.5],[2021.3,2.5],[2021.6,3.0],[2022.0,1.5],[2022.3,-1.0],[2022.6,-2.0],[2022.9,-1.0],[2023.3,-1.0]];

const ZAR_TREND=[[2000.05,0.3],[2000.5,0.4],[2001.0,0.3],[2001.5,0.5],[2002.0,0.2],[2002.5,0.3],[2003.0,0.0],[2003.5,-0.3],[2004.0,-0.5],[2004.5,-0.3],[2005.0,-0.7],[2005.5,-1.0],[2006.0,-1.2],[2006.5,-1.4],[2007.0,-1.0],[2007.5,-0.8],[2008.0,-0.5],[2008.5,-1.3],[2009.0,-0.5],[2009.5,-0.2],[2010.0,0.0],[2010.5,0.4],[2011.0,1.0],[2011.5,0.2],[2012.0,-0.4],[2012.5,0.5],[2013.0,0.8],[2013.5,0.5],[2014.0,-0.5],[2014.5,-1.0],[2015.0,-1.3],[2015.5,-1.0],[2016.0,-1.5],[2016.5,-1.4],[2017.0,-1.0],[2017.5,-0.8],[2018.0,-1.0],[2018.5,-0.5],[2019.0,0.0],[2019.5,-0.2],[2020.0,-0.3],[2020.3,0.2],[2020.6,0.8],[2021.0,2.0],[2021.3,3.5],[2021.6,4.0],[2022.0,3.5],[2022.3,2.8],[2022.6,1.5],[2022.9,0.5],[2023.1,-0.6]];
const ZAR_DYNZ=[[2000.05,0.2],[2000.3,0.4],[2000.6,0.0],[2001.0,0.6],[2001.3,-0.5],[2001.6,0.5],[2002.0,1.8],[2002.3,0.0],[2002.6,-0.5],[2003.0,1.0],[2003.3,-1.0],[2003.6,0.0],[2004.0,-1.5],[2004.3,-0.5],[2004.6,-2.0],[2005.0,-1.0],[2005.3,-0.5],[2005.6,0.5],[2006.0,-1.5],[2006.3,-0.5],[2006.6,-2.3],[2007.0,-1.0],[2007.3,-0.3],[2007.6,-1.5],[2008.0,-0.5],[2008.3,-1.7],[2008.6,0.0],[2009.0,-1.0],[2009.3,0.5],[2009.6,-0.3],[2010.0,1.0],[2010.3,0.3],[2010.6,2.0],[2011.0,0.5],[2011.3,-0.5],[2011.6,0.8],[2012.0,-0.5],[2012.3,0.5],[2012.6,-1.0],[2013.0,0.0],[2013.3,0.5],[2013.6,-1.5],[2014.0,0.0],[2014.3,1.0],[2014.6,-0.5],[2015.0,-1.0],[2015.3,0.5],[2015.6,-0.8],[2016.0,1.0],[2016.3,-0.3],[2016.6,0.5],[2017.0,1.2],[2017.3,0.0],[2017.6,0.8],[2018.0,1.5],[2018.3,-0.5],[2018.6,0.8],[2019.0,0.0],[2019.3,1.5],[2019.6,0.5],[2020.0,-0.5],[2020.3,1.5],[2020.6,4.0],[2021.0,4.2],[2021.3,3.5],[2021.6,1.5],[2021.8,-1.0],[2022.0,-1.5],[2022.3,-2.0],[2022.6,-2.5],[2022.9,-2.8],[2023.1,-1.8]];

const JPY_TREND=[[2000.05,0.1],[2001.0,0.1],[2002.0,-0.1],[2003.0,-0.1],[2004.0,0.1],[2005.0,0.4],[2005.5,0.3],[2006.0,0.0],[2007.5,0.1],[2008.0,0.2],[2008.5,0.0],[2009.0,-0.5],[2009.5,-0.8],[2010.0,-0.5],[2010.5,-0.2],[2011.0,0.0],[2011.5,-0.5],[2012.0,-1.0],[2012.5,-0.8],[2013.0,-0.7],[2013.5,-0.5],[2014.5,-0.7],[2015.0,-0.2],[2015.5,0.5],[2016.0,0.8],[2016.5,0.6],[2017.0,0.8],[2017.5,0.7],[2018.0,0.3],[2018.5,0.5],[2019.0,0.2],[2019.5,0.0],[2020.0,0.3],[2020.5,0.0],[2021.0,-0.3],[2021.5,0.0],[2022.0,-0.5],[2022.5,-1.2],[2023.0,-1.3],[2023.3,-1.2]];
const JPY_DYNZ=[[2000.05,0.1],[2000.5,-0.1],[2001.0,-0.2],[2001.5,-0.4],[2002.0,-0.1],[2002.5,-0.3],[2003.0,0.0],[2003.5,-0.1],[2004.0,0.3],[2004.5,0.5],[2005.0,0.2],[2005.5,0.3],[2006.0,0.1],[2006.5,-0.2],[2007.0,0.0],[2007.5,0.3],[2008.0,-0.2],[2008.5,-1.2],[2009.0,-0.5],[2009.5,-0.6],[2010.0,-0.2],[2010.5,0.1],[2011.0,-0.5],[2011.5,-1.5],[2012.0,-0.6],[2012.5,-0.8],[2013.0,-0.3],[2013.5,-0.8],[2014.0,-0.5],[2014.5,-1.2],[2015.0,-0.5],[2015.5,0.7],[2016.0,1.6],[2016.5,0.8],[2017.0,0.5],[2017.5,0.2],[2018.0,0.0],[2018.5,-0.5],[2019.0,0.0],[2019.5,-0.3],[2020.0,0.5],[2020.5,0.0],[2021.0,1.3],[2021.3,0.5],[2021.6,-0.5],[2022.0,-0.3],[2022.3,-1.8],[2022.6,-2.2],[2023.0,-1.5],[2023.3,-1.0]];

const KRW_TREND=[[2000.05,1.6],[2000.3,0.8],[2000.6,1.2],[2001.0,0.5],[2001.5,0.0],[2002.0,-0.5],[2002.5,0.3],[2003.0,0.5],[2003.5,1.0],[2004.0,1.0],[2004.5,0.5],[2005.0,0.0],[2005.5,-0.3],[2006.0,0.0],[2006.5,0.3],[2007.0,-0.3],[2007.5,0.2],[2008.0,-0.8],[2008.5,-1.5],[2009.0,0.5],[2009.3,2.2],[2009.6,1.0],[2010.0,1.5],[2010.5,0.8],[2011.0,0.5],[2011.5,0.8],[2012.0,0.0],[2012.5,0.3],[2013.0,0.5],[2013.5,1.0],[2014.0,0.8],[2014.5,1.2],[2015.0,1.5],[2015.5,1.3],[2016.0,2.0],[2016.3,2.4],[2016.6,1.8],[2017.0,1.0],[2017.5,1.3],[2018.0,0.8],[2018.5,0.5],[2019.0,0.0],[2019.5,-0.3],[2020.0,-0.5],[2020.5,0.0],[2021.0,-0.5],[2021.5,-1.0],[2022.0,-1.5],[2022.5,-2.5],[2022.8,-3.0],[2023.3,-2.8]];
const KRW_DYNZ=[[2000.05,-2.0],[2000.3,-1.0],[2000.6,-2.5],[2001.0,-1.0],[2001.3,0.5],[2001.6,-1.2],[2002.0,0.0],[2002.3,0.5],[2002.6,-0.5],[2003.0,0.5],[2003.3,1.5],[2003.6,2.5],[2004.0,0.5],[2004.3,-1.0],[2004.6,0.0],[2005.0,-0.5],[2005.3,-1.0],[2005.6,0.5],[2006.0,-0.3],[2006.3,-1.0],[2006.6,0.0],[2007.0,-0.5],[2007.3,-1.5],[2007.6,-0.5],[2008.0,-1.0],[2008.3,-2.5],[2008.6,-1.5],[2009.0,1.0],[2009.3,4.0],[2009.6,3.5],[2009.8,2.0],[2010.0,0.5],[2010.3,-0.5],[2010.6,0.5],[2011.0,-1.5],[2011.3,0.0],[2011.6,0.8],[2012.0,-1.0],[2012.3,0.5],[2012.6,-0.5],[2013.0,1.0],[2013.3,0.3],[2013.6,1.5],[2014.0,0.5],[2014.3,-0.5],[2014.6,1.0],[2015.0,0.5],[2015.3,1.5],[2015.6,0.5],[2016.0,-0.5],[2016.3,-1.0],[2016.6,0.3],[2017.0,0.0],[2017.3,-0.5],[2017.6,0.5],[2018.0,-0.3],[2018.3,-1.0],[2018.6,0.3],[2019.0,-0.8],[2019.3,-0.5],[2019.6,0.5],[2020.0,-0.5],[2020.3,0.5],[2020.6,1.5],[2021.0,1.0],[2021.3,-0.5],[2021.6,-1.5],[2022.0,-1.0],[2022.3,-2.5],[2022.6,-3.5],[2022.9,-3.0],[2023.1,-2.0]];

const CHF_TREND=[[2000.05,0.0],[2000.5,-0.3],[2001.0,-0.2],[2001.5,-0.5],[2002.0,-0.2],[2002.5,0.3],[2003.0,0.5],[2003.5,0.8],[2004.0,0.5],[2004.5,0.7],[2005.0,0.3],[2005.5,-0.5],[2006.0,-1.0],[2006.5,-1.5],[2007.0,-1.0],[2007.5,0.0],[2008.0,1.5],[2008.3,2.3],[2008.6,1.5],[2009.0,1.0],[2009.5,0.5],[2010.0,0.2],[2010.5,-0.3],[2011.0,0.8],[2011.5,1.5],[2012.0,0.3],[2012.5,0.5],[2013.0,1.0],[2013.5,0.5],[2014.0,0.0],[2014.5,-0.3],[2015.0,0.8],[2015.5,1.5],[2016.0,1.8],[2016.3,2.2],[2016.6,1.0],[2017.0,0.5],[2017.5,0.8],[2018.0,0.0],[2018.5,-0.2],[2019.0,0.3],[2019.5,-0.5],[2020.0,-1.2],[2020.3,-1.8],[2020.6,-0.5],[2021.0,0.5],[2021.5,1.0],[2022.0,2.5],[2022.3,2.8],[2022.6,1.8],[2023.0,2.1],[2023.3,2.1]];
const CHF_DYNZ=[[2000.05,0.5],[2000.3,-0.3],[2000.6,-0.8],[2001.0,0.0],[2001.3,-1.0],[2001.6,0.5],[2002.0,-0.5],[2002.3,1.8],[2002.6,2.0],[2003.0,0.5],[2003.3,-0.5],[2003.6,1.5],[2004.0,2.0],[2004.3,0.0],[2004.6,-1.0],[2005.0,-2.0],[2005.3,0.5],[2005.6,-1.0],[2006.0,0.5],[2006.3,-1.5],[2006.6,-0.5],[2007.0,1.0],[2007.3,-1.0],[2007.6,2.0],[2008.0,0.5],[2008.3,-1.0],[2008.6,2.0],[2009.0,1.5],[2009.3,-0.5],[2009.6,1.0],[2010.0,-1.5],[2010.3,0.5],[2010.6,2.0],[2011.0,1.0],[2011.3,-1.8],[2011.6,0.5],[2012.0,-1.0],[2012.3,1.5],[2012.6,0.0],[2013.0,2.0],[2013.3,-0.5],[2013.6,1.0],[2014.0,-1.0],[2014.3,0.5],[2014.6,-1.5],[2015.0,-0.5],[2015.3,1.5],[2015.6,0.0],[2016.0,2.0],[2016.3,-1.0],[2016.6,1.5],[2017.0,2.0],[2017.3,-0.5],[2017.6,0.5],[2018.0,-1.0],[2018.3,1.5],[2018.6,-2.0],[2019.0,-1.5],[2019.3,-0.5],[2019.6,1.0],[2020.0,2.0],[2020.3,0.5],[2020.6,2.5],[2021.0,2.7],[2021.3,1.5],[2021.6,2.5],[2022.0,0.0],[2022.3,-1.5],[2022.6,-1.0],[2023.1,-0.5],[2023.3,-0.3]];

const IDR_TREND=[[2000.05,3.2],[2000.2,3.6],[2000.5,4.0],[2000.8,3.5],[2001.0,3.2],[2001.5,3.0],[2002.0,2.5],[2002.5,2.8],[2003.0,2.3],[2003.5,2.0],[2004.0,1.8],[2004.5,1.2],[2005.0,1.0],[2005.5,0.8],[2006.0,1.5],[2006.5,2.0],[2007.0,1.0],[2007.5,-0.5],[2008.0,-1.5],[2008.3,-1.8],[2008.6,-0.5],[2009.0,0.5],[2009.5,0.0],[2010.0,0.2],[2010.5,-0.3],[2011.0,0.2],[2011.5,0.0],[2012.0,-0.3],[2012.5,-1.5],[2013.0,-1.2],[2013.5,-1.0],[2014.5,-0.8],[2015.0,-0.5],[2015.5,-0.3],[2016.0,0.0],[2016.5,-0.2],[2017.0,0.3],[2017.5,0.0],[2018.0,-0.5],[2018.5,-0.3],[2019.0,-0.5],[2019.5,-0.2],[2020.0,0.3],[2020.5,0.5],[2021.0,0.3],[2021.5,1.0],[2022.0,1.8],[2022.5,1.3],[2023.3,1.3]];
const IDR_DYNZ=[[2000.05,2.0],[2000.3,2.3],[2000.6,1.5],[2000.8,-0.5],[2001.0,-1.5],[2001.3,-1.0],[2001.6,0.3],[2002.0,-1.0],[2002.3,-0.5],[2002.6,-1.5],[2003.0,-2.0],[2003.3,-3.0],[2003.6,-1.0],[2004.0,0.0],[2004.3,-1.5],[2004.6,-3.2],[2005.0,-1.0],[2005.3,0.0],[2005.6,0.5],[2006.0,2.0],[2006.3,0.5],[2006.6,1.5],[2007.0,2.8],[2007.3,1.5],[2007.6,-0.5],[2008.0,-1.0],[2008.3,-3.5],[2008.6,-4.0],[2009.0,-1.0],[2009.3,0.0],[2009.6,1.5],[2010.0,2.3],[2010.3,1.0],[2010.6,0.5],[2011.0,-0.5],[2011.3,0.5],[2011.6,1.0],[2012.0,0.0],[2012.3,-0.5],[2012.6,-2.0],[2013.0,-0.5],[2013.3,0.3],[2013.6,-0.5],[2014.0,-0.3],[2014.3,0.5],[2014.6,-0.5],[2015.0,0.3],[2015.3,-0.5],[2015.6,0.0],[2016.0,0.5],[2016.3,0.0],[2016.6,0.3],[2017.0,0.5],[2017.3,0.0],[2017.6,-0.5],[2018.0,-0.3],[2018.3,-1.0],[2018.6,-0.3],[2019.0,-0.5],[2019.3,-1.2],[2019.6,-0.5],[2020.0,0.0],[2020.3,0.8],[2020.6,1.0],[2021.0,2.2],[2021.3,1.0],[2021.6,0.3],[2022.0,-0.5],[2022.3,0.5],[2022.6,0.0],[2022.9,1.0],[2023.1,0.5]];

const NZD_TREND=[[2000.05,-0.5],[2000.5,-0.3],[2001.0,0.0],[2001.5,0.5],[2002.0,0.2],[2002.5,0.3],[2003.0,-0.3],[2003.5,-0.8],[2004.0,-0.5],[2004.5,-0.2],[2005.0,0.0],[2005.5,-0.3],[2006.0,0.0],[2006.5,0.3],[2007.0,0.5],[2007.5,0.2],[2008.0,0.3],[2008.5,0.5],[2009.0,0.3],[2009.5,0.8],[2010.0,1.0],[2010.5,0.7],[2011.0,1.3],[2011.5,1.0],[2012.0,0.8],[2012.5,0.5],[2013.0,0.7],[2013.5,0.3],[2014.0,0.5],[2014.5,0.2],[2015.0,0.0],[2015.5,-0.3],[2016.0,0.2],[2016.5,-0.1],[2017.0,0.3],[2017.5,0.0],[2018.0,-0.3],[2018.5,-0.2],[2019.0,0.0],[2019.5,-0.3],[2020.0,0.3],[2020.5,0.5],[2021.0,0.3],[2021.5,0.0],[2022.0,-0.5],[2022.5,-1.0],[2023.0,-1.3],[2023.3,-1.6]];
const NZD_DYNZ=[[2000.05,-0.5],[2000.2,-2.4],[2000.4,0.3],[2000.7,0.6],[2001.0,-0.3],[2001.3,0.5],[2001.6,1.5],[2002.0,0.3],[2002.3,-0.5],[2002.6,0.8],[2003.0,-1.0],[2003.3,-0.3],[2003.6,0.5],[2004.0,-0.8],[2004.3,0.0],[2004.6,1.0],[2005.0,-0.5],[2005.3,-1.0],[2005.6,0.5],[2006.0,-1.3],[2006.3,0.3],[2006.6,-0.5],[2007.0,1.5],[2007.3,-1.0],[2007.6,0.5],[2008.0,2.0],[2008.3,0.5],[2008.6,-0.5],[2009.0,2.3],[2009.3,0.0],[2009.6,1.5],[2010.0,-0.5],[2010.3,0.8],[2010.6,2.0],[2011.0,0.5],[2011.3,-0.5],[2011.6,1.0],[2012.0,0.0],[2012.3,-1.0],[2012.6,0.5],[2013.0,1.5],[2013.3,0.0],[2013.6,-0.5],[2014.0,1.0],[2014.3,0.3],[2014.6,-0.5],[2015.0,-1.0],[2015.3,0.5],[2015.6,-0.3],[2016.0,1.2],[2016.3,0.0],[2016.6,-1.0],[2017.0,0.5],[2017.3,-0.5],[2017.6,1.0],[2018.0,0.5],[2018.3,-0.8],[2018.6,0.0],[2019.0,0.8],[2019.3,-0.5],[2019.6,0.5],[2020.0,1.0],[2020.3,0.0],[2020.6,2.4],[2020.8,1.5],[2021.0,-0.5],[2021.3,-1.5],[2021.6,-0.5],[2022.0,-2.3],[2022.3,-1.0],[2022.6,-1.8],[2022.9,-0.5],[2023.1,-0.8],[2023.3,-0.5]];

const INR_TREND=[[2001.0,0.0],[2002.0,-0.3],[2002.5,-0.8],[2003.0,-0.5],[2003.5,-1.0],[2004.0,-1.2],[2004.5,-0.5],[2005.0,-1.5],[2005.5,-1.3],[2006.0,-1.8],[2006.5,-1.0],[2007.0,-1.5],[2007.5,-1.8],[2008.0,-1.2],[2008.5,-2.2],[2009.0,-3.0],[2009.3,-2.0],[2009.6,-1.0],[2010.0,-1.5],[2010.5,-0.5],[2011.0,0.5],[2011.5,-0.5],[2012.0,-1.8],[2012.3,-1.2],[2012.6,-2.5],[2013.0,-2.8],[2013.3,-2.0],[2013.6,-0.5],[2014.0,-0.3],[2014.5,-0.5],[2015.0,0.0],[2015.5,0.3],[2016.0,0.0],[2016.5,-0.3],[2017.0,0.0],[2017.5,0.3],[2018.0,-0.3],[2018.5,-0.5],[2019.0,-0.2],[2019.5,-0.5],[2020.0,0.0],[2020.5,0.5],[2021.0,0.5],[2021.5,-0.3],[2022.0,-0.8],[2022.5,-1.5],[2023.0,-2.0],[2023.3,-1.4]];
const INR_DYNZ=[[2000.05,-0.6],[2000.3,-0.4],[2000.6,0.8],[2001.0,1.0],[2001.3,0.3],[2001.6,0.7],[2002.0,0.5],[2002.3,0.0],[2002.6,-0.5],[2003.0,0.5],[2003.3,0.8],[2003.6,-0.2],[2004.0,-0.8],[2004.3,-1.5],[2004.6,-0.5],[2005.0,-1.0],[2005.3,-2.0],[2005.6,-0.5],[2006.0,0.5],[2006.3,-1.0],[2006.6,-2.3],[2007.0,-0.5],[2007.3,-1.5],[2007.6,-0.5],[2008.0,-1.0],[2008.3,-2.5],[2008.6,-3.0],[2008.9,-4.0],[2009.1,-1.0],[2009.3,2.8],[2009.6,2.3],[2009.8,1.0],[2010.0,2.7],[2010.3,0.5],[2010.6,-0.5],[2011.0,0.5],[2011.3,-1.0],[2011.6,0.0],[2012.0,1.2],[2012.3,-0.5],[2012.6,1.0],[2013.0,0.0],[2013.3,-1.5],[2013.6,1.5],[2014.0,3.4],[2014.3,2.5],[2014.6,1.5],[2015.0,0.0],[2015.3,1.5],[2015.6,0.5],[2016.0,-0.5],[2016.3,0.5],[2016.6,1.2],[2017.0,0.5],[2017.3,-0.5],[2017.6,0.8],[2018.0,1.0],[2018.3,-0.5],[2018.6,0.0],[2019.0,-1.0],[2019.3,0.5],[2019.6,0.0],[2020.0,1.0],[2020.3,1.5],[2020.6,0.5],[2021.0,-0.5],[2021.3,-1.0],[2021.6,-0.3],[2022.0,-1.5],[2022.3,-2.0],[2022.6,-2.3],[2022.9,-1.0],[2023.1,-0.5],[2023.3,-0.3]];

const COP_TREND=[[2000.05,1.8],[2000.3,1.0],[2000.6,0.8],[2001.0,0.5],[2001.5,0.0],[2002.0,-0.3],[2002.5,0.0],[2003.0,-0.5],[2003.5,-0.3],[2004.0,0.0],[2004.5,0.3],[2005.0,0.0],[2005.5,0.2],[2006.0,-0.3],[2006.5,0.0],[2007.0,-0.2],[2007.5,0.0],[2008.0,0.2],[2008.5,-0.3],[2009.0,-0.5],[2009.5,-0.3],[2010.0,0.0],[2010.5,0.3],[2011.0,0.5],[2011.5,0.3],[2012.0,0.0],[2012.5,0.2],[2013.0,-0.3],[2013.5,-0.5],[2014.0,-0.3],[2014.5,-0.5],[2015.0,-1.0],[2015.5,-1.8],[2016.0,-2.0],[2016.5,-2.2],[2017.0,-1.5],[2017.5,-1.0],[2018.0,-0.5],[2018.5,-0.3],[2019.0,0.0],[2019.5,-0.3],[2020.0,-0.5],[2020.5,-0.3],[2021.0,-0.2],[2021.5,-0.5],[2022.0,-1.0],[2022.5,-1.3],[2023.0,-0.6],[2023.3,-0.6]];
const COP_DYNZ=[[2000.05,2.3],[2000.2,1.0],[2000.5,1.2],[2001.0,0.5],[2001.3,-0.5],[2001.6,0.5],[2002.0,-0.5],[2002.3,0.0],[2002.6,-1.0],[2003.0,0.3],[2003.3,-0.5],[2003.6,0.5],[2004.0,0.3],[2004.5,0.0],[2005.0,0.5],[2005.5,0.3],[2006.0,-0.3],[2006.5,0.2],[2007.0,-0.2],[2007.5,0.5],[2008.0,1.3],[2008.3,0.5],[2008.6,-0.5],[2009.0,-2.5],[2009.3,-1.5],[2009.6,0.0],[2010.0,-0.5],[2010.3,0.5],[2010.6,1.0],[2011.0,1.5],[2011.3,0.5],[2011.6,1.0],[2012.0,0.0],[2012.3,0.8],[2012.6,-0.3],[2013.0,0.5],[2013.3,-0.5],[2013.6,0.3],[2014.0,-1.0],[2014.3,0.0],[2014.6,-0.5],[2015.0,-1.5],[2015.3,-3.0],[2015.6,-2.0],[2016.0,-0.5],[2016.3,-1.5],[2016.6,0.0],[2017.0,1.5],[2017.3,2.0],[2017.6,1.5],[2018.0,0.0],[2018.3,1.0],[2018.6,2.0],[2019.0,1.0],[2019.3,-0.5],[2019.6,0.5],[2020.0,-0.5],[2020.3,0.3],[2020.6,-1.0],[2021.0,-0.5],[2021.3,0.0],[2021.6,-1.0],[2022.0,-1.5],[2022.3,-0.5],[2022.6,2.0],[2022.9,0.5],[2023.1,0.5]];

const CLP_TREND=[[2000.05,-0.5],[2000.5,0.0],[2001.0,-0.3],[2001.5,0.0],[2002.0,-0.5],[2002.5,-0.2],[2003.0,0.3],[2003.5,0.5],[2004.0,0.8],[2004.5,1.5],[2005.0,2.0],[2005.5,1.5],[2006.0,3.0],[2006.5,3.5],[2007.0,4.0],[2007.3,3.0],[2007.6,2.5],[2008.0,1.0],[2008.3,-0.5],[2008.6,-1.0],[2009.0,-2.0],[2009.5,-1.5],[2010.0,-0.5],[2010.5,0.5],[2011.0,-0.5],[2011.5,-1.5],[2012.0,-2.0],[2012.5,-2.5],[2013.0,-2.0],[2013.5,-2.5],[2014.0,-1.5],[2014.5,-0.5],[2015.0,0.0],[2015.5,-0.5],[2016.0,-1.0],[2016.5,-0.5],[2017.0,0.0],[2017.5,-0.5],[2018.0,0.0],[2018.5,0.5],[2019.0,-0.5],[2019.5,0.5],[2020.0,1.5],[2020.3,2.0],[2020.6,1.0],[2021.0,0.0],[2021.5,-0.5],[2022.0,-1.5],[2022.5,-2.5],[2022.8,-1.5],[2023.0,-1.0],[2023.2,-0.5]];
const CLP_DYNZ=[[2000.05,2.5],[2000.2,0.5],[2000.5,0.0],[2001.0,-0.5],[2001.3,-1.5],[2001.6,-0.5],[2002.0,0.5],[2002.3,-1.0],[2002.6,-2.0],[2003.0,-1.0],[2003.3,1.0],[2003.6,2.0],[2004.0,0.5],[2004.3,2.5],[2004.6,3.5],[2005.0,1.0],[2005.3,2.5],[2005.6,0.5],[2006.0,2.5],[2006.3,1.5],[2006.6,4.5],[2007.0,2.5],[2007.3,-0.5],[2007.6,-2.0],[2008.0,-4.5],[2008.3,-2.5],[2008.6,-1.0],[2009.0,0.5],[2009.3,-0.5],[2009.6,-2.0],[2010.0,1.0],[2010.3,2.5],[2010.6,1.5],[2011.0,-0.5],[2011.3,1.0],[2011.6,0.0],[2012.0,-1.0],[2012.3,0.5],[2012.6,-1.5],[2013.0,0.5],[2013.3,-1.0],[2013.6,1.0],[2014.0,2.3],[2014.3,0.5],[2014.6,-1.0],[2015.0,1.0],[2015.3,2.0],[2015.6,1.0],[2016.0,2.0],[2016.3,0.0],[2016.6,1.5],[2017.0,0.5],[2017.3,-1.5],[2017.6,0.5],[2018.0,1.5],[2018.3,-0.5],[2018.6,-2.0],[2019.0,-0.5],[2019.3,1.0],[2019.6,-2.0],[2020.0,-2.5],[2020.3,0.0],[2020.6,3.5],[2020.8,4.0],[2021.0,1.5],[2021.3,-1.5],[2021.6,-3.0],[2022.0,-2.0],[2022.3,-3.5],[2022.6,-2.5],[2022.8,0.0],[2023.0,-0.5],[2023.2,3.8]];

const ILS_TREND=[[2000.05,-0.3],[2000.5,0.2],[2001.0,0.3],[2001.5,0.0],[2002.0,-0.3],[2002.5,0.0],[2003.0,-0.2],[2003.5,-0.5],[2004.0,0.0],[2004.5,0.3],[2005.0,0.5],[2005.5,0.3],[2006.0,0.0],[2006.5,0.5],[2007.0,0.2],[2007.5,0.0],[2008.0,-0.5],[2008.5,-0.3],[2009.0,0.5],[2009.5,0.3],[2010.0,-0.5],[2010.5,-0.8],[2011.0,-0.5],[2011.5,0.0],[2012.0,0.5],[2012.5,0.2],[2013.0,0.0],[2013.5,-0.5],[2014.0,-0.3],[2014.5,0.0],[2015.0,0.3],[2015.5,0.8],[2016.0,0.5],[2016.5,1.0],[2017.0,0.5],[2017.5,0.0],[2018.0,-0.5],[2018.5,-0.8],[2019.0,-0.5],[2019.5,-0.3],[2020.0,0.0],[2020.5,-0.3],[2021.0,0.3],[2021.5,0.0],[2022.0,-0.5],[2022.5,-1.5],[2023.0,-1.2],[2023.3,-0.8]];
const ILS_DYNZ=[[2000.05,0.0],[2000.3,0.8],[2000.6,-0.5],[2001.0,0.5],[2001.3,-0.3],[2001.6,0.5],[2002.0,-1.0],[2002.3,0.3],[2002.6,-0.5],[2003.0,1.0],[2003.3,-0.5],[2003.6,0.5],[2004.0,-0.3],[2004.3,0.5],[2004.6,-1.0],[2005.0,0.3],[2005.3,1.3],[2005.6,0.0],[2006.0,0.8],[2006.3,-0.5],[2006.6,1.0],[2007.0,-0.5],[2007.3,0.5],[2007.6,-1.0],[2008.0,-0.5],[2008.3,0.5],[2008.6,1.0],[2009.0,-1.5],[2009.3,0.5],[2009.6,2.2],[2010.0,0.5],[2010.3,-1.0],[2010.6,0.0],[2011.0,-2.0],[2011.3,-2.3],[2011.6,-1.0],[2012.0,0.5],[2012.3,1.5],[2012.6,0.0],[2013.0,-1.5],[2013.3,-0.5],[2013.6,1.0],[2014.0,0.5],[2014.3,-0.5],[2014.6,0.5],[2015.0,1.5],[2015.3,2.5],[2015.6,0.5],[2016.0,-1.0],[2016.3,0.5],[2016.6,-0.5],[2017.0,1.0],[2017.3,2.0],[2017.6,0.5],[2018.0,-1.0],[2018.3,-2.0],[2018.6,-0.5],[2019.0,0.5],[2019.3,-1.0],[2019.6,0.5],[2020.0,1.0],[2020.3,-0.5],[2020.6,0.5],[2021.0,1.3],[2021.3,0.0],[2021.6,-1.0],[2022.0,-0.5],[2022.3,-1.8],[2022.6,0.0],[2022.9,1.0],[2023.1,0.8],[2023.3,0.8]];

const NOK_TREND=[[2000.05,0.7],[2000.1,3.0],[2000.5,3.5],[2001.0,4.0],[2001.3,3.0],[2001.6,2.5],[2002.0,2.0],[2002.5,1.7],[2003.0,2.0],[2003.5,1.5],[2004.0,2.5],[2004.5,3.0],[2005.0,2.8],[2005.5,2.5],[2006.0,3.5],[2006.3,4.2],[2006.6,3.0],[2007.0,3.3],[2007.5,2.5],[2008.0,1.5],[2008.5,2.0],[2009.0,1.5],[2009.5,1.0],[2010.0,2.0],[2010.5,0.5],[2011.0,0.0],[2011.5,0.5],[2012.0,-0.5],[2012.5,-1.0],[2013.0,-0.5],[2013.5,0.0],[2014.0,-0.5],[2014.5,-1.0],[2015.0,-1.5],[2015.5,-1.8],[2016.0,-2.5],[2016.5,-3.0],[2017.0,-2.5],[2017.5,-2.8],[2018.0,-2.0],[2018.5,-1.5],[2019.0,-1.0],[2019.5,-2.0],[2020.0,-2.5],[2020.3,-2.0],[2020.6,-1.0],[2021.0,0.5],[2021.3,3.0],[2021.6,4.5],[2021.8,5.0],[2023.3,5.0]];
const NOK_DYNZ=[[2000.05,4.0],[2000.3,3.5],[2000.6,3.8],[2001.0,2.0],[2001.3,3.5],[2001.6,-1.0],[2002.0,-2.0],[2002.3,-3.0],[2002.6,-1.0],[2003.0,1.0],[2003.3,0.0],[2003.6,2.0],[2004.0,0.5],[2004.3,2.5],[2004.6,1.5],[2005.0,3.0],[2005.3,1.0],[2005.6,2.5],[2006.0,1.0],[2006.3,3.0],[2006.6,2.0],[2007.0,0.5],[2007.3,2.5],[2007.6,-0.5],[2008.0,-2.0],[2008.3,-2.8],[2008.6,-1.5],[2009.0,1.0],[2009.3,-1.5],[2009.6,-2.5],[2010.0,-0.5],[2010.3,1.0],[2010.6,-1.0],[2011.0,-2.0],[2011.3,-0.5],[2011.6,-2.5],[2012.0,-1.0],[2012.3,0.5],[2012.6,-1.5],[2013.0,-2.5],[2013.3,-1.0],[2013.6,0.0],[2014.0,-1.0],[2014.3,-2.0],[2014.6,-1.0],[2015.0,-2.5],[2015.3,-1.5],[2015.6,-0.5],[2016.0,-1.5],[2016.3,-2.5],[2016.6,-1.0],[2017.0,0.0],[2017.3,-1.5],[2017.6,-2.5],[2018.0,-1.0],[2018.3,-3.0],[2018.6,-1.5],[2019.0,-0.5],[2019.3,-2.5],[2019.6,-1.0],[2020.0,-3.0],[2020.3,-3.7],[2020.6,-1.0],[2020.8,2.0],[2021.0,3.0],[2021.3,4.0],[2021.6,4.5],[2022.0,4.3],[2022.3,3.5],[2022.6,4.0],[2022.9,2.5],[2023.1,1.5]];

const CAD_TREND=[[2000.05,0.35],[2000.3,0.3],[2000.5,0.7],[2000.85,0.75],[2001.0,0.9],[2001.2,1.1],[2001.5,1.5],[2001.65,1.0],[2001.9,0.35],[2002.3,0.4],[2002.45,0.5],[2002.7,0.3],[2003.1,0.1],[2003.3,-0.1],[2003.45,0.2],[2003.7,-0.2],[2004.0,0.15],[2004.2,-0.15],[2004.5,0.2],[2004.9,0.0],[2005.25,-0.3],[2005.5,-0.4],[2005.8,0.0],[2006.05,0.3],[2006.25,0.8],[2006.4,0.5],[2006.7,0.3],[2007.05,0.2],[2007.4,0.4],[2007.8,0.6],[2008.05,0.1],[2008.3,0.0],[2008.5,0.35],[2009.0,-0.5],[2009.4,-0.8],[2009.6,-1.2],[2009.85,-1.6],[2010.05,-1.7],[2010.2,-1.3],[2010.5,-1.1],[2010.75,-1.3],[2010.95,-1.4],[2011.2,-0.9],[2011.65,-1.1],[2011.95,-0.9],[2012.3,-0.6],[2013.0,-0.9],[2013.3,-0.4],[2014.0,-0.1],[2014.3,0.0],[2014.65,0.15],[2015.0,0.4],[2015.2,0.3],[2015.45,-0.4],[2015.7,-0.7],[2015.95,-0.4],[2016.35,-0.5],[2016.7,-0.6],[2016.95,-0.4],[2017.25,-0.1],[2017.6,-0.3],[2017.95,-0.6],[2018.3,-0.4],[2018.65,-0.2],[2018.95,0.1],[2019.3,0.1],[2019.45,-0.4],[2019.75,0.2],[2019.9,0.35],[2020.15,0.3],[2020.5,0.2],[2020.9,0.1],[2021.15,-0.1],[2021.45,0.6],[2021.8,0.7],[2022.15,0.9],[2022.5,1.05],[2022.9,1.0],[2023.05,0.3],[2023.25,0.45]];
const CAD_DYNZ=[[2000.05,1.5],[2000.15,0.6],[2000.4,0.55],[2000.55,1.0],[2000.85,1.0],[2001.0,0.7],[2001.2,1.2],[2001.4,1.7],[2001.5,1.1],[2001.65,-0.5],[2001.8,-1.0],[2001.9,-1.9],[2002.1,-1.9],[2002.3,-1.1],[2002.45,-0.1],[2002.7,-0.2],[2003.0,-0.3],[2003.2,-1.4],[2003.35,-1.4],[2003.55,-0.3],[2003.95,0.7],[2004.2,0.0],[2004.45,0.6],[2004.65,0.7],[2004.7,-0.5],[2005.0,0.4],[2005.25,-0.6],[2005.5,-0.9],[2005.75,0.5],[2006.0,0.8],[2006.2,1.6],[2006.35,1.4],[2006.55,-0.3],[2006.7,-1.0],[2006.9,-0.9],[2007.15,-1.0],[2007.35,-0.6],[2007.7,1.5],[2007.8,1.1],[2007.95,-0.9],[2008.15,-0.7],[2008.4,-0.4],[2008.55,0.2],[2008.75,-0.6],[2008.9,-0.2],[2009.1,-1.0],[2009.25,-1.6],[2009.45,-2.2],[2009.65,-2.6],[2009.85,-2.8],[2010.05,-2.0],[2010.2,0.3],[2010.45,0.6],[2010.6,0.9],[2010.75,0.3],[2011.0,-0.7],[2011.4,0.2],[2011.65,-0.1],[2011.95,0.5],[2012.3,0.3],[2012.85,-0.9],[2013.0,-1.1],[2013.2,0.3],[2013.5,0.5],[2013.75,1.0],[2013.9,0.1],[2014.55,0.0],[2014.75,0.5],[2015.0,1.0],[2015.2,0.8],[2015.35,-0.1],[2015.5,-1.8],[2015.7,-2.0],[2015.8,-2.4],[2015.95,-0.5],[2016.25,0.0],[2016.45,0.2],[2016.7,-0.4],[2016.95,-0.6],[2017.25,0.7],[2017.45,-0.6],[2017.6,0.0],[2017.7,0.8],[2017.9,-0.2],[2018.15,-0.3],[2018.45,-0.4],[2018.7,-0.1],[2018.9,0.7],[2019.1,0.3],[2019.25,0.8],[2019.45,-1.6],[2019.6,-1.3],[2019.8,1.3],[2019.95,1.4],[2020.1,0.8],[2020.4,0.3],[2020.65,0.0],[2020.75,-0.5],[2021.0,-0.8],[2021.2,-1.0],[2021.4,0.4],[2021.5,1.7],[2021.75,1.0],[2021.95,0.6],[2022.05,1.7],[2022.3,0.4],[2022.5,0.3],[2022.65,1.0],[2022.85,0.5],[2022.95,-0.8],[2023.1,-0.85],[2023.25,0.5],[2023.35,0.45]];

const TWD_TREND=[[2000.05,0.2],[2000.5,0.0],[2001.0,-0.3],[2001.5,0.3],[2002.0,1.0],[2002.5,1.5],[2003.0,1.0],[2003.5,0.5],[2004.0,0.8],[2004.5,1.5],[2005.0,1.3],[2005.5,0.5],[2006.0,0.0],[2006.5,-0.5],[2007.0,0.0],[2007.5,0.8],[2008.0,0.5],[2008.5,-0.5],[2009.0,0.0],[2009.5,0.5],[2010.0,-0.3],[2010.5,0.3],[2011.0,0.5],[2011.5,0.0],[2012.0,0.5],[2012.5,1.0],[2013.0,0.8],[2013.5,0.3],[2014.0,0.8],[2014.5,1.0],[2015.0,1.5],[2015.5,2.0],[2016.0,1.5],[2016.5,1.3],[2017.0,1.0],[2017.5,0.5],[2018.0,1.5],[2018.5,1.0],[2019.0,1.2],[2019.5,0.5],[2020.0,0.8],[2020.5,1.0],[2021.0,1.8],[2021.5,1.5],[2022.0,0.5],[2022.5,-0.5],[2023.0,-0.5],[2023.2,-0.8]];
const TWD_DYNZ=[[2000.05,0.0],[2000.3,-0.3],[2000.6,-1.0],[2001.0,0.3],[2001.3,-0.5],[2001.6,-1.0],[2002.0,1.0],[2002.3,1.5],[2002.6,2.0],[2003.0,0.5],[2003.3,1.5],[2003.6,-0.5],[2004.0,-2.5],[2004.3,-1.5],[2004.6,-3.5],[2005.0,-1.5],[2005.3,0.0],[2005.6,-0.5],[2006.0,4.1],[2006.3,1.0],[2006.6,-1.5],[2007.0,-0.5],[2007.3,-2.0],[2007.6,1.0],[2008.0,0.5],[2008.3,-1.5],[2008.6,-3.0],[2009.0,1.0],[2009.3,3.8],[2009.6,1.5],[2010.0,0.0],[2010.3,-1.0],[2010.6,0.5],[2011.0,3.0],[2011.3,1.0],[2011.6,-1.5],[2012.0,-0.5],[2012.3,1.5],[2012.6,-0.5],[2013.0,-1.0],[2013.3,0.5],[2013.6,-2.0],[2014.0,-0.5],[2014.3,1.5],[2014.6,0.0],[2015.0,2.0],[2015.3,-0.5],[2015.6,-1.5],[2016.0,0.5],[2016.3,3.3],[2016.6,2.5],[2017.0,1.0],[2017.3,-0.5],[2017.6,0.8],[2018.0,-1.0],[2018.3,0.5],[2018.6,-0.5],[2019.0,1.0],[2019.3,-1.0],[2019.6,-2.5],[2020.0,0.0],[2020.3,1.5],[2020.6,0.5],[2021.0,2.0],[2021.3,0.5],[2021.6,-1.0],[2022.0,-0.5],[2022.3,-1.5],[2022.6,-1.0],[2022.9,-2.0],[2023.3,-1.8]];

const PEN_TREND=[[2000.05,0.0],[2000.5,0.5],[2001.0,0.3],[2001.5,0.5],[2002.0,0.7],[2002.5,0.5],[2003.5,0.8],[2004.0,1.5],[2004.5,1.0],[2005.0,1.8],[2005.5,2.0],[2006.0,1.5],[2006.5,2.5],[2007.0,3.2],[2007.3,3.0],[2007.6,2.0],[2008.0,1.5],[2008.5,0.5],[2009.0,0.3],[2009.5,-0.5],[2010.0,-0.2],[2010.5,0.5],[2011.0,-0.2],[2011.5,0.3],[2012.0,-0.2],[2012.5,-0.5],[2013.0,-1.0],[2013.5,-0.8],[2014.0,-1.2],[2014.5,-1.0],[2015.0,-1.3],[2016.0,-1.5],[2016.5,-1.2],[2017.0,-0.8],[2017.5,-0.5],[2018.0,-0.8],[2018.5,-0.5],[2019.0,0.3],[2019.5,0.8],[2020.0,0.5],[2021.0,0.6],[2021.5,0.8],[2022.0,1.5],[2022.3,1.2],[2022.6,0.0],[2022.9,-0.7],[2023.1,-0.5],[2023.3,-0.5]];
const PEN_DYNZ=[[2000.05,1.5],[2000.2,0.0],[2000.5,0.3],[2001.0,0.5],[2001.5,0.0],[2002.0,0.5],[2002.5,0.8],[2003.0,0.5],[2003.5,1.0],[2004.0,0.8],[2004.3,2.5],[2004.6,1.5],[2005.0,1.8],[2005.3,0.5],[2005.6,1.5],[2006.0,1.0],[2006.3,2.0],[2006.6,2.5],[2007.0,3.2],[2007.3,3.0],[2007.6,-0.5],[2008.0,0.5],[2008.2,-1.0],[2008.5,-2.0],[2008.7,-4.5],[2009.0,-3.5],[2009.3,-1.5],[2009.6,0.5],[2010.0,-0.8],[2010.3,0.0],[2010.6,-1.0],[2011.0,0.3],[2011.3,-0.5],[2011.6,1.0],[2012.0,0.0],[2012.3,-1.0],[2012.6,-0.5],[2013.0,-2.0],[2013.3,-1.5],[2013.6,-2.5],[2014.0,-1.5],[2014.3,-1.0],[2014.6,-1.5],[2015.0,-0.8],[2015.3,-0.5],[2015.6,-1.0],[2016.0,0.0],[2016.3,-0.3],[2016.6,0.5],[2017.0,1.0],[2017.3,0.5],[2017.6,1.5],[2018.0,2.3],[2018.3,1.5],[2018.6,1.0],[2019.3,0.5],[2019.6,1.0],[2020.0,0.0],[2020.3,0.5],[2020.6,1.5],[2021.0,1.8],[2021.3,1.0],[2021.6,0.0],[2022.0,1.8],[2022.3,1.0],[2022.6,-2.0],[2022.8,-3.3],[2023.2,-1.5],[2023.3,-1.5]];

// ---------- BUILD ----------
const SERIES = {GBP:[GBP_TREND,GBP_DYNZ],HUF:[HUF_TREND,HUF_DYNZ],AUD:[AUD_TREND,AUD_DYNZ],THB:[THB_TREND,THB_DYNZ],PLN:[PLN_TREND,PLN_DYNZ],RON:[RON_TREND,RON_DYNZ],SEK:[SEK_TREND,SEK_DYNZ],TRY:[TRY_TREND,TRY_DYNZ],MXN:[MXN_TREND,MXN_DYNZ],CZK:[CZK_TREND,CZK_DYNZ],PHP:[PHP_TREND,PHP_DYNZ],BRL:[BRL_TREND,BRL_DYNZ],MYR:[MYR_TREND,MYR_DYNZ],ZAR:[ZAR_TREND,ZAR_DYNZ],JPY:[JPY_TREND,JPY_DYNZ],KRW:[KRW_TREND,KRW_DYNZ],CHF:[CHF_TREND,CHF_DYNZ],IDR:[IDR_TREND,IDR_DYNZ],NZD:[NZD_TREND,NZD_DYNZ],INR:[INR_TREND,INR_DYNZ],COP:[COP_TREND,COP_DYNZ],CLP:[CLP_TREND,CLP_DYNZ],ILS:[ILS_TREND,ILS_DYNZ],NOK:[NOK_TREND,NOK_DYNZ],CAD:[CAD_TREND,CAD_DYNZ],TWD:[TWD_TREND,TWD_DYNZ],PEN:[PEN_TREND,PEN_DYNZ]};
const COLORS = ["#1f77b4","#ff7f0e"];

const W = 2747, H = 2968;
const PX_LEFT = 41.7, COL_PITCH = 679.3, PW = 651;
const PX_TOP = 32.7, ROW_PITCH = 418.3, PH = 349;
const FONT = "Liberation Sans, Arial, Helvetica, sans-serif";

const traces = [], annotations = [], shapes = [];
const layout = {
  width: W, height: H, margin:{l:0,r:0,t:0,b:0}, paper_bgcolor:"#ffffff", plot_bgcolor:"#eaeaf2",
  font:{family:FONT, color:"#262626", size:15}, showlegend:true,
  legend:{orientation:"h", x:0.5, xanchor:"center", y:1-2946/H, yanchor:"middle",
    bgcolor:"#eaeaf2", bordercolor:"#cccccc", borderwidth:1, font:{size:16, family:FONT, color:"#262626"},
    entrywidth:186, entrywidthmode:"pixels", itemwidth:36, tracegroupgap:0}
};

CURRENCIES.forEach((cur, i) => {
  const r = Math.floor(i/4), c = i%4;
  const n = i+1, sfx = n===1 ? "" : String(n);
  const x0 = PX_LEFT + c*COL_PITCH, y0 = PX_TOP + r*ROW_PITCH;
  layout["xaxis"+sfx] = {domain:[x0/W,(x0+PW)/W], anchor:"y"+sfx, range:[1998.944,2024.41],
    tickvals:X_TICKS, ticktext:X_TICKS.map(String), showgrid:true, gridcolor:"#ffffff", gridwidth:1.6,
    zeroline:false, showline:false, ticks:"", ticklabelstandoff:9, tickfont:{size:15,color:"#262626"}, fixedrange:true};
  layout["yaxis"+sfx] = {domain:[1-(y0+PH)/H, 1-y0/H], anchor:"x"+sfx, range:[-5.45,5.456],
    tickvals:Y_TICKS, ticktext:Y_TICKS.map(v=>v<0?"\u2212"+Math.abs(v):String(v)), showgrid:true, gridcolor:"#ffffff", gridwidth:1.6,
    zeroline:false, showline:false, ticks:"", ticklabelstandoff:13, showticklabels:c===0, tickfont:{size:15,color:"#262626"}, fixedrange:true};
  SERIES[cur].forEach((arr, k) => {
    traces.push({type:"scatter", mode:"lines", x:arr.map(p=>p[0]), y:arr.map(p=>p[1]),
      xaxis:"x"+sfx, yaxis:"y"+sfx, name:SERIES_NAMES[k], legendgroup:SERIES_NAMES[k],
      showlegend:i===0, line:{color:COLORS[k], width:1.8, shape:"hv"}, hoverinfo:"skip"});
  });
  shapes.push({type:"line", xref:"x"+sfx+" domain", x0:0, x1:1, yref:"y"+sfx, y0:0, y1:0,
    line:{color:"#000000", width:2.6, dash:"9px,4px"}, layer:"above"});
  annotations.push({text:cur, xref:"paper", yref:"paper", x:(x0+PW/2)/W, y:1-y0/H,
    xanchor:"center", yanchor:"bottom", yshift:3, showarrow:false, font:{size:18, family:FONT, color:"#262626"}});
});
layout.shapes = shapes; layout.annotations = annotations;
Plotly.newPlot("chart", traces, layout, {staticPlot:true, displayModeBar:false});
</script>
</body></html>
